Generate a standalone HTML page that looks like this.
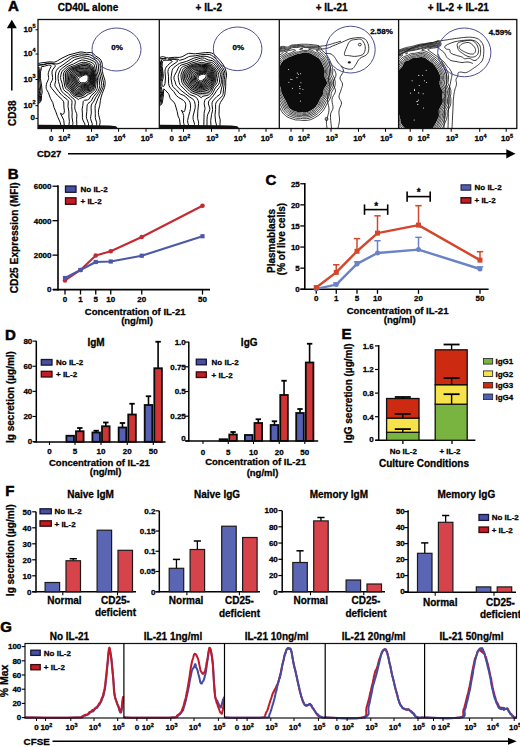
<!DOCTYPE html>
<html><head><meta charset="utf-8"><style>
html,body{margin:0;padding:0;background:#fff;}
svg{display:block;font-family:"Liberation Sans", sans-serif;}
text{stroke:#000;stroke-width:0.28px;paint-order:stroke;}
</style></head><body>
<svg width="520" height="747" viewBox="0 0 520 747">
<rect width="520" height="747" fill="#fff"/>
<text x="8.1" y="10.7" font-size="15" font-weight="bold" style="stroke-width:0.5px">A</text>
<text x="88.00" y="11.08" font-size="10" text-anchor="middle" fill="#000" font-weight="bold">CD40L alone</text>
<text x="208.80" y="11.08" font-size="10" text-anchor="middle" fill="#000" font-weight="bold">+ IL-2</text>
<text x="331.70" y="11.08" font-size="10" text-anchor="middle" fill="#000" font-weight="bold">+ IL-21</text>
<text x="458.20" y="11.08" font-size="10" text-anchor="middle" fill="#000" font-weight="bold">+ IL-2 + IL-21</text>
<defs>
<clipPath id="cb0"><rect x="38" y="19.5" width="121.30000000000001" height="109"/></clipPath>
<clipPath id="cb1"><rect x="159.3" y="19.5" width="120.0" height="109"/></clipPath>
<clipPath id="cb2"><rect x="279.3" y="19.5" width="119.30000000000001" height="109"/></clipPath>
<clipPath id="cb3"><rect x="398.6" y="19.5" width="118.19999999999993" height="109"/></clipPath>
</defs>
<path clip-path="url(#cb0)" fill="#000" fill-opacity="0.32" fill-rule="evenodd" d="M79.9,97.5 L83.7,96.3 L84.8,95.6 L87.2,93.7 L90.8,92.3 L92.2,91.5 L93.5,90.3 L94.3,89.1 L94.8,87.9 L95.2,86.3 L95.9,80.7 L95.9,78.7 L94.1,71.1 L93.1,67.9 L92.0,66.1 L90.8,65.0 L88.0,63.8 L85.2,63.1 L83.2,63.0 L81.2,63.4 L75.2,66.0 L71.2,67.2 L69.6,67.8 L67.7,69.1 L65.9,70.7 L64.8,72.3 L64.2,73.9 L64.2,75.9 L64.7,81.9 L65.6,86.2 L66.4,87.9 L70.0,90.9 L72.4,94.4 L73.6,95.6 L78.0,97.8 L79.9,97.5Z M84.8,83.5 L86.4,83.1 L87.6,82.3 L88.4,81.1 L88.8,79.9 L89.0,77.9 L88.8,76.3 L88.0,75.0 L86.8,74.3 L84.8,74.3 L82.3,75.1 L78.4,77.0 L77.8,77.5 L77.3,78.3 L77.3,79.5 L77.7,80.7 L78.6,82.3 L79.6,83.3 L81.2,83.8 L84.8,83.5Z"/>
<g clip-path="url(#cb0)" fill="none" stroke="#0a0a0a" stroke-width="1.0">
<path d="M84.4,82.7 L85.8,82.3 L86.8,81.7 L87.6,80.7 L88.0,79.5 L88.2,77.9 L88.0,76.3 L87.5,75.5 L86.4,74.9 L85.6,74.9 L84.4,75.1 L82.0,76.1 L79.6,77.6 L78.9,78.3 L78.6,79.1 L78.8,80.7 L79.2,81.5 L80.0,82.3 L81.6,82.9 L84.4,82.7"/>
<path d="M83.4,83.9 L85.6,83.6 L86.9,83.1 L87.9,82.3 L88.6,81.1 L89.1,78.7 L89.0,76.7 L88.4,75.1 L87.2,74.3 L85.6,74.0 L83.2,74.6 L78.4,76.6 L77.6,77.2 L77.1,77.9 L76.9,79.1 L77.2,80.3 L78.0,81.9 L78.9,83.1 L80.0,83.8 L80.8,84.0 L83.4,83.9"/>
<path d="M82.0,85.1 L87.2,84.1 L88.4,83.3 L89.0,82.3 L89.8,79.9 L89.8,77.1 L89.2,74.9 L88.8,74.3 L88.0,73.7 L86.0,73.3 L83.2,73.8 L77.6,75.5 L76.4,76.3 L75.8,77.1 L75.5,78.3 L75.8,79.9 L76.8,81.9 L78.0,83.8 L78.8,84.7 L79.6,85.1 L80.4,85.3 L82.0,85.1"/>
<path d="M80.3,86.7 L83.2,85.8 L87.6,84.9 L88.6,84.3 L89.3,83.5 L89.9,82.3 L90.4,80.7 L90.6,77.9 L90.0,74.9 L89.5,73.9 L88.8,73.2 L87.6,72.8 L86.4,72.6 L83.2,73.0 L77.2,74.3 L76.0,74.9 L75.0,75.9 L74.5,77.1 L74.4,78.3 L74.5,79.5 L75.1,81.1 L78.0,86.0 L79.1,86.7 L80.3,86.7"/>
<path d="M79.5,88.3 L83.6,86.6 L88.0,85.7 L89.2,84.9 L90.0,83.9 L91.1,80.7 L91.3,77.9 L90.5,74.3 L90.0,73.2 L89.2,72.5 L88.0,72.0 L86.0,71.9 L78.4,72.7 L76.8,73.1 L75.8,73.5 L74.8,74.3 L74.2,75.1 L73.6,76.3 L73.3,77.9 L73.4,79.5 L73.9,81.1 L77.2,87.3 L78.4,88.2 L79.5,88.3"/>
<path d="M80.2,89.5 L84.0,87.5 L88.8,86.4 L89.9,85.5 L90.7,84.3 L91.8,80.7 L92.0,77.9 L91.0,73.5 L90.4,72.2 L89.6,71.5 L88.5,71.1 L87.2,71.0 L78.0,71.4 L76.1,71.9 L74.8,72.6 L73.8,73.5 L73.0,74.7 L72.4,76.4 L72.1,78.7 L72.3,80.7 L72.9,82.3 L75.6,87.5 L76.8,89.1 L77.6,89.6 L78.4,89.8 L79.2,89.8 L80.2,89.5"/>
<path d="M79.5,91.1 L80.8,90.5 L82.9,89.1 L84.4,88.4 L89.2,87.2 L90.4,86.3 L91.2,85.1 L92.6,80.7 L92.7,77.9 L91.5,72.7 L90.8,71.3 L89.6,70.3 L87.6,69.9 L84.0,70.0 L80.0,69.8 L78.0,70.1 L75.8,70.7 L74.2,71.5 L72.8,72.7 L72.0,73.9 L71.4,75.9 L70.9,79.1 L71.0,81.1 L71.5,82.7 L74.6,88.3 L75.8,89.9 L76.7,90.7 L77.6,91.1 L79.5,91.1"/>
<path d="M79.9,92.3 L81.2,91.7 L83.6,89.9 L84.8,89.3 L88.8,88.4 L90.0,87.9 L91.2,86.8 L91.9,85.5 L93.3,80.7 L93.3,77.9 L92.4,73.5 L91.8,71.5 L90.8,69.9 L89.6,69.1 L88.4,68.7 L87.2,68.6 L84.4,68.7 L80.8,68.4 L78.8,68.7 L75.6,69.6 L73.3,70.7 L71.8,71.9 L70.8,73.5 L70.2,75.5 L69.6,80.3 L69.7,81.9 L70.2,83.5 L74.0,89.5 L75.6,91.4 L76.4,92.0 L77.6,92.4 L78.8,92.5 L79.9,92.3"/>
<path d="M80.5,93.5 L81.6,93.0 L84.0,91.0 L85.2,90.2 L86.4,89.8 L89.2,89.4 L90.7,88.7 L92.0,87.3 L92.8,85.5 L94.0,79.9 L94.0,78.3 L93.6,76.3 L92.7,72.3 L92.0,70.3 L90.8,68.7 L90.0,68.1 L88.8,67.5 L86.8,67.1 L84.8,67.0 L80.8,67.1 L78.4,67.6 L74.0,69.2 L71.7,70.3 L70.0,71.9 L69.1,73.5 L68.2,81.1 L68.4,82.7 L69.2,84.5 L74.0,91.3 L75.2,92.6 L76.4,93.3 L77.6,93.6 L79.2,93.7 L80.5,93.5"/>
<path d="M81.1,94.7 L82.6,93.9 L85.6,91.4 L86.8,90.9 L90.0,90.3 L91.2,89.7 L91.9,89.1 L92.8,87.9 L93.3,86.7 L94.5,81.5 L94.7,79.5 L94.5,77.5 L93.2,71.9 L92.3,69.5 L91.6,68.3 L90.4,67.1 L88.8,66.3 L86.4,65.6 L84.0,65.4 L80.4,66.0 L72.0,68.9 L70.1,69.9 L68.7,71.1 L67.8,72.3 L67.2,73.9 L67.0,81.9 L67.6,84.3 L68.4,85.9 L71.2,89.1 L73.7,92.7 L74.8,93.8 L76.0,94.4 L78.0,94.9 L79.6,95.0 L81.1,94.7"/>
<path d="M80.6,96.3 L82.0,95.9 L83.2,95.3 L86.4,92.7 L90.4,91.5 L92.4,90.3 L93.4,89.1 L94.1,87.5 L95.2,81.5 L95.4,79.5 L95.2,77.5 L93.6,71.0 L92.4,67.9 L91.2,66.4 L90.0,65.5 L88.0,64.7 L85.6,64.1 L83.2,64.0 L80.8,64.5 L75.6,66.6 L70.4,68.3 L68.5,69.5 L66.8,71.1 L66.0,72.3 L65.4,73.9 L65.8,82.3 L66.4,85.3 L67.2,87.0 L70.4,90.0 L73.1,93.9 L74.4,95.1 L76.0,95.8 L78.0,96.4 L80.6,96.3"/>
<path d="M78.5,99.5 L78.8,99.1 L79.6,98.6 L85.2,96.6 L88.2,94.3 L91.2,92.9 L92.4,92.1 L93.6,91.1 L94.6,89.9 L95.2,88.7 L95.6,87.1 L96.3,81.1 L96.3,78.7 L94.3,70.3 L93.2,67.0 L92.4,65.6 L91.2,64.5 L88.4,63.3 L85.2,62.4 L83.2,62.3 L81.2,62.6 L79.2,63.4 L74.8,65.5 L70.8,66.7 L69.2,67.4 L67.2,68.7 L65.1,70.7 L64.0,72.3 L63.4,73.9 L63.3,76.3 L63.7,79.9 L64.8,86.3 L65.6,88.3 L66.4,89.2 L69.6,91.5 L71.8,94.7 L72.8,95.8 L76.9,98.3 L78.4,99.7 L78.5,99.5"/>
<path d="M82.5,128.7 L83.6,128.2 L84.3,127.5 L84.8,126.7 L85.0,125.5 L84.8,123.9 L82.8,119.9 L82.4,117.5 L82.4,113.1 L82.1,109.1 L82.8,105.5 L83.2,101.5 L83.8,100.7 L84.4,100.3 L87.6,99.9 L88.4,99.6 L89.0,99.1 L90.9,95.9 L94.8,92.3 L96.2,90.7 L97.2,88.3 L97.6,85.1 L97.6,80.3 L97.4,77.9 L96.0,72.9 L94.5,65.9 L93.9,64.3 L92.8,63.2 L90.8,62.2 L85.6,60.5 L82.8,60.0 L81.2,60.2 L78.8,61.1 L73.6,63.9 L68.8,65.8 L66.2,67.5 L63.4,69.9 L61.8,71.9 L61.0,74.3 L60.6,77.5 L60.8,79.5 L62.1,83.5 L63.0,87.9 L63.6,89.5 L64.8,91.0 L68.4,93.5 L71.0,96.7 L74.4,99.5 L75.1,100.7 L75.3,102.3 L74.8,106.3 L74.8,108.3 L75.3,110.3 L76.6,113.5 L76.9,115.1 L76.6,119.1 L76.8,123.9 L76.5,127.5 L77.1,128.3 L78.4,128.7 L80.8,128.9 L82.5,128.7"/>
<path d="M38.6,99.9 L38.3,97.9 L36.9,93.9 L36.9,89.9 L36.4,86.3 L37.6,74.8 L37.7,70.3 L37.2,70.0 L36.9,70.3 L36.9,75.1 L36.4,80.3 L35.5,84.7 L35.4,86.3 L35.8,89.5 L35.8,92.7 L35.9,93.9 L37.6,97.9 L38.0,100.0 L38.4,100.3 L38.6,99.9"/>
<path d="M78.2,132.3 L82.8,132.1 L84.4,131.6 L86.0,130.1 L88.0,126.7 L88.5,125.1 L88.5,123.5 L86.6,118.3 L86.3,116.3 L86.8,111.5 L87.0,106.7 L87.3,104.7 L88.0,103.5 L90.4,101.7 L91.2,100.9 L93.6,96.4 L97.6,91.8 L99.1,88.7 L99.5,87.1 L99.8,85.5 L98.9,77.5 L97.2,71.9 L96.3,65.1 L95.6,63.0 L94.8,62.0 L94.0,61.4 L89.6,59.3 L86.8,58.5 L82.4,57.7 L80.0,58.0 L74.8,59.6 L71.0,62.3 L66.0,65.3 L61.2,69.0 L60.0,70.3 L58.8,72.7 L58.1,75.9 L58.1,78.7 L58.5,81.5 L60.3,87.9 L61.4,90.7 L62.4,92.1 L63.6,93.4 L67.2,96.2 L70.6,99.1 L71.6,100.2 L71.9,101.1 L72.0,102.3 L71.7,106.7 L72.2,112.7 L72.0,117.1 L72.9,122.7 L72.8,124.3 L71.9,127.9 L71.8,129.1 L72.1,130.3 L72.6,131.1 L73.2,131.8 L74.2,132.3"/>
<path d="M38.5,101.1 L39.2,100.3 L39.3,99.5 L38.1,93.9 L38.3,90.3 L37.7,85.1 L38.5,70.3 L38.3,69.5 L37.6,69.2 L36.6,69.5 L36.0,70.3 L36.1,74.7 L35.7,79.5 L35.4,81.5 L34.5,84.7 L34.4,86.3 L34.7,89.9 L34.7,92.7 L34.9,93.9 L36.8,97.9 L37.3,100.7 L37.6,101.2 L38.0,101.3 L38.5,101.1"/>
<path d="M88.5,132.3 L91.7,126.7 L92.3,125.1 L92.2,123.5 L90.9,119.9 L90.6,118.3 L90.7,116.7 L91.3,113.1 L91.1,107.1 L91.3,105.1 L91.9,103.9 L93.9,101.1 L95.9,97.1 L98.4,93.5 L99.6,91.5 L101.5,86.7 L101.8,85.5 L101.7,83.9 L100.3,76.3 L98.8,71.1 L98.1,63.5 L97.7,62.3 L97.3,61.5 L95.6,60.1 L89.6,56.9 L87.6,56.4 L81.6,55.7 L79.6,56.0 L74.4,57.3 L72.7,57.9 L71.3,58.7 L62.8,65.0 L59.6,67.0 L58.4,67.9 L56.5,70.3 L56.0,71.5 L55.6,73.1 L55.5,75.1 L55.7,80.7 L54.8,84.7 L55.1,86.3 L58.7,91.5 L61.2,94.5 L63.2,96.5 L67.2,99.5 L67.9,100.3 L68.3,101.1 L68.0,106.3 L68.9,111.9 L68.9,117.1 L69.4,121.5 L68.9,125.5 L68.9,127.1 L69.1,129.5 L69.9,132.3"/>
<path d="M34.0,94.1 L36.2,98.3 L36.7,101.9 L37.2,102.3 L37.6,102.3 L38.4,102.0 L39.6,100.8 L40.0,99.5 L39.3,95.1 L39.6,90.7 L39.1,86.7 L38.7,80.3 L39.1,71.9 L39.3,69.9 L39.1,69.1 L38.4,68.5 L37.6,68.4 L36.5,68.7 L35.9,69.1 L35.2,69.9 L34.9,79.1 L34.6,81.1 L34.0,83.1"/>
<path d="M93.1,132.3 L95.9,127.1 L96.5,125.5 L96.7,124.3 L96.6,122.3 L95.6,119.1 L95.3,117.5 L95.3,113.5 L95.1,108.3 L95.2,105.5 L98.0,98.3 L100.4,93.4 L102.9,87.9 L103.5,85.5 L103.5,82.7 L101.9,75.9 L100.5,71.1 L100.3,68.7 L100.3,63.1 L100.0,61.9 L99.3,60.7 L97.6,59.2 L90.8,55.0 L89.2,54.7 L81.2,53.9 L78.4,54.3 L70.8,56.4 L64.8,60.0 L60.8,62.6 L58.0,63.8 L56.0,64.0 L51.6,63.3 L48.0,63.3 L43.6,64.4 L39.2,64.9 L37.3,65.5 L37.6,65.6 L38.3,65.5 L38.4,65.3 L43.6,64.8 L47.2,63.7 L49.6,63.5 L52.0,63.8 L53.6,64.3 L54.4,64.7 L55.3,65.5 L55.2,66.3 L52.8,69.5 L52.1,71.1 L52.0,73.1 L52.6,77.5 L52.6,79.1 L52.2,80.3 L50.5,83.5 L50.3,85.5 L50.9,87.1 L52.0,88.7 L57.2,95.0 L62.4,99.9 L63.6,101.8 L63.8,103.1 L63.9,107.1 L64.4,110.7 L64.2,112.7 L63.6,113.9 L62.8,114.4 L61.6,114.1 L60.4,112.9 L60.4,113.1 L60.7,113.5 L60.7,113.9 L61.2,115.0 L63.4,119.1 L63.8,120.7 L64.3,125.5 L67.0,132.3"/>
<path d="M34.0,95.9 L35.0,97.5 L35.5,98.7 L35.7,99.9 L35.6,101.9 L35.8,102.7 L36.1,103.1 L36.8,103.4 L37.6,103.3 L38.4,103.0 L39.9,101.5 L40.7,99.9 L40.4,95.5 L40.9,91.5 L40.2,83.9 L39.6,79.5 L39.7,72.7 L40.2,69.1 L39.9,68.3 L39.2,67.7 L38.0,67.5 L36.8,67.8 L35.2,68.6 L34.4,69.5 L34.1,70.3 L34.2,74.7 L34.0,79.1"/>
<path d="M97.2,132.3 L99.6,125.1 L100.1,122.7 L100.0,120.3 L98.6,114.7 L98.4,112.3 L98.6,109.9 L99.7,105.5 L100.4,100.7 L100.9,97.9 L102.1,93.9 L104.6,87.5 L105.2,83.5 L104.9,80.3 L103.2,74.8 L102.3,71.1 L102.1,69.1 L102.3,64.7 L102.1,63.1 L101.2,60.7 L100.0,59.0 L98.8,58.0 L95.5,55.9 L93.2,53.6 L92.0,52.8 L90.8,52.5 L86.4,52.8 L82.0,52.0 L80.0,52.0 L68.8,54.9 L62.0,58.1 L57.7,60.7 L54.8,62.1 L53.6,62.2 L50.0,61.9 L48.0,62.0 L44.0,62.6 L40.8,62.9 L38.8,63.4 L37.6,63.9 L36.2,65.1 L35.6,65.9 L35.6,67.1 L34.0,68.6"/>
<path d="M34.0,97.4 L34.7,99.1 L34.8,100.3 L34.6,102.7 L35.1,103.9 L36.0,104.3 L37.2,104.3 L38.4,103.8 L39.2,103.3 L40.6,101.5 L41.3,99.9 L41.5,95.9 L42.2,91.9 L41.4,83.9 L40.4,78.7 L40.4,73.1 L40.6,71.5 L41.3,69.1 L41.1,67.1 L41.6,66.7 L44.4,66.2 L48.4,65.1 L50.0,65.1 L50.8,65.4 L51.2,65.9 L51.2,66.3 L49.3,69.9 L48.4,72.7 L48.2,74.7 L48.6,77.5 L48.6,78.7 L48.2,79.9 L46.9,82.7 L46.4,84.3 L46.1,86.3 L46.2,88.3 L46.6,89.5 L48.4,92.7 L50.4,98.3 L52.8,102.7 L54.0,107.5 L55.9,111.9 L57.6,116.7 L60.0,122.0 L61.9,128.7 L63.3,132.3"/>
</g>
<path clip-path="url(#cb0)" d="M38.0,124.8 L98.0,125.2 L110.0,125.6 L116.0,126.2 L118.0,128.5 L38.0,128.5Z" fill="#111"/>
<path clip-path="url(#cb1)" fill="#000" fill-opacity="0.32" fill-rule="evenodd" d="M200.9,95.5 L202.9,94.9 L207.3,94.4 L209.3,93.4 L210.9,91.6 L213.1,87.1 L215.8,83.5 L216.4,82.3 L216.9,78.3 L217.9,74.7 L217.7,73.1 L216.5,70.7 L213.6,66.7 L212.1,65.2 L210.5,64.5 L201.7,63.1 L192.1,64.8 L190.1,65.7 L184.5,68.8 L183.3,70.3 L182.1,73.5 L181.7,75.9 L182.3,80.3 L183.0,82.7 L184.1,84.5 L190.1,90.6 L191.7,91.9 L193.3,92.7 L197.0,93.9 L200.5,95.7 L200.9,95.5Z M202.2,81.5 L206.1,78.3 L206.9,77.1 L207.1,76.3 L207.0,75.1 L206.5,74.2 L205.7,73.6 L204.5,73.4 L203.3,73.4 L200.5,74.1 L198.2,75.5 L197.1,77.1 L196.9,78.3 L196.9,79.1 L197.3,79.9 L198.0,80.7 L199.3,81.5 L200.5,81.9 L201.3,81.9 L202.2,81.5Z"/>
<g clip-path="url(#cb1)" fill="none" stroke="#0a0a0a" stroke-width="1.0">
<path d="M201.6,80.7 L202.5,80.2 L204.4,78.7 L205.8,77.1 L206.1,76.3 L206.1,75.5 L205.3,74.5 L203.7,74.1 L201.3,74.5 L199.4,75.5 L198.3,76.7 L197.9,78.3 L198.0,79.1 L198.5,79.9 L199.3,80.5 L200.1,80.8 L200.9,80.9 L201.6,80.7"/>
<path d="M202.0,81.9 L206.0,78.7 L207.0,77.5 L207.4,76.3 L207.3,75.1 L206.9,74.3 L206.1,73.6 L204.9,73.2 L203.7,73.2 L200.9,73.8 L198.4,75.1 L197.0,76.7 L196.7,77.5 L196.6,78.7 L197.0,79.9 L197.6,80.7 L198.9,81.6 L200.1,82.0 L201.3,82.1 L202.0,81.9"/>
<path d="M202.3,83.1 L203.3,82.4 L207.2,79.1 L207.9,78.3 L208.3,77.5 L208.5,75.9 L208.1,74.3 L207.3,73.1 L206.5,72.6 L205.3,72.4 L203.3,72.5 L199.7,73.4 L197.2,74.7 L196.4,75.5 L195.7,76.7 L195.5,77.9 L195.5,79.1 L195.9,80.3 L196.5,81.1 L197.7,82.1 L199.7,83.1 L200.9,83.3 L202.3,83.1"/>
<path d="M202.4,84.3 L203.7,83.6 L205.7,81.7 L208.0,79.9 L208.8,79.1 L209.2,78.3 L209.5,76.7 L209.1,74.3 L208.4,72.7 L207.3,71.8 L206.1,71.5 L204.1,71.6 L201.7,72.0 L199.7,72.5 L196.1,73.9 L195.2,74.7 L194.6,75.9 L194.3,77.5 L194.4,79.1 L194.9,80.7 L195.7,81.9 L197.3,83.0 L199.7,84.2 L200.9,84.5 L202.4,84.3"/>
<path d="M201.7,85.5 L203.2,85.1 L204.5,84.3 L208.9,80.6 L210.0,79.1 L210.4,77.1 L210.1,74.3 L209.2,72.3 L208.5,71.4 L207.7,70.9 L206.1,70.6 L203.7,70.8 L196.1,72.3 L194.5,73.1 L193.3,74.7 L193.0,75.9 L193.0,77.5 L193.7,80.7 L194.5,82.3 L195.7,83.4 L198.5,84.8 L200.1,85.4 L201.7,85.5"/>
<path d="M203.0,86.3 L204.9,85.4 L207.7,83.3 L209.7,81.5 L210.6,80.3 L211.3,78.3 L211.3,76.3 L210.9,73.9 L210.1,71.9 L209.3,70.7 L208.5,70.1 L207.7,69.7 L206.5,69.6 L202.5,69.9 L198.5,70.6 L195.3,70.8 L194.1,71.2 L193.2,71.9 L192.2,73.1 L191.6,74.3 L191.2,75.5 L191.4,77.1 L193.3,82.8 L194.1,83.8 L194.9,84.4 L198.9,86.2 L200.9,86.6 L203.0,86.3"/>
<path d="M202.6,87.5 L204.9,86.7 L207.6,85.1 L210.1,82.8 L211.3,81.1 L212.0,79.1 L212.2,76.3 L211.8,73.9 L211.0,71.5 L210.2,70.3 L209.3,69.4 L208.5,68.9 L207.3,68.6 L205.3,68.6 L198.5,69.2 L194.9,69.2 L193.7,69.5 L192.5,70.4 L191.3,71.9 L189.9,73.9 L189.4,75.5 L189.5,76.7 L191.1,79.9 L192.2,83.5 L192.9,84.5 L193.7,85.2 L197.7,87.0 L200.1,87.7 L202.6,87.5"/>
<path d="M202.3,88.7 L205.3,87.8 L208.1,86.4 L210.1,84.5 L212.1,81.9 L212.8,79.5 L213.0,76.3 L212.8,73.9 L212.0,71.5 L211.1,69.9 L210.1,68.7 L208.9,67.9 L207.7,67.6 L205.7,67.5 L198.1,68.0 L194.5,67.9 L192.9,68.3 L191.3,69.6 L188.1,73.9 L187.6,75.1 L187.5,75.9 L187.9,77.5 L189.7,80.3 L191.2,84.3 L192.5,85.9 L194.5,87.1 L198.5,88.6 L200.5,88.9 L202.3,88.7"/>
<path d="M202.7,89.9 L206.9,88.6 L208.5,87.8 L210.1,86.3 L212.8,82.7 L213.6,80.3 L213.9,76.3 L213.9,73.9 L213.3,71.9 L212.2,69.9 L210.9,68.1 L209.7,67.2 L208.5,66.7 L206.5,66.5 L201.7,66.5 L197.7,66.9 L194.1,66.9 L192.5,67.3 L191.3,68.0 L190.1,69.1 L187.6,71.9 L186.5,73.5 L186.0,74.7 L185.8,75.9 L185.9,77.1 L186.3,78.3 L188.5,81.8 L190.1,85.1 L191.0,86.3 L192.1,87.2 L194.5,88.5 L198.5,90.0 L200.5,90.2 L202.7,89.9"/>
<path d="M202.5,91.5 L207.3,90.3 L208.9,89.5 L210.1,88.3 L213.4,83.5 L214.2,81.9 L214.6,80.3 L215.2,74.3 L214.8,72.3 L213.5,69.9 L211.7,67.5 L210.5,66.5 L209.1,65.9 L207.3,65.6 L201.7,65.4 L197.3,65.9 L194.1,66.0 L192.1,66.4 L190.3,67.5 L187.4,69.9 L186.2,71.1 L185.2,72.7 L184.4,74.7 L184.3,76.3 L184.5,78.3 L185.2,80.3 L186.1,82.0 L189.4,86.3 L190.9,87.9 L192.5,89.1 L194.9,90.3 L198.5,91.5 L200.5,91.8 L202.5,91.5"/>
<path d="M202.4,93.5 L206.5,93.0 L207.7,92.7 L209.3,91.7 L210.5,90.3 L212.5,86.7 L214.8,83.5 L215.4,82.3 L215.7,81.1 L216.0,77.5 L216.7,74.7 L216.7,73.5 L216.5,72.7 L215.5,70.7 L212.9,67.1 L211.6,65.9 L210.0,65.1 L201.7,64.1 L193.7,65.1 L191.7,65.6 L190.1,66.4 L185.9,69.1 L184.9,70.0 L184.1,71.3 L183.2,73.5 L182.8,75.5 L182.9,77.9 L183.7,81.5 L184.3,82.7 L185.3,84.1 L189.7,88.7 L192.1,90.8 L194.1,91.8 L199.3,93.5 L200.5,93.7 L202.4,93.5"/>
<path d="M201.6,97.5 L202.0,96.7 L202.9,96.2 L206.9,95.5 L208.5,94.9 L209.7,94.1 L211.0,92.7 L211.9,91.1 L213.7,87.1 L216.4,83.9 L217.0,82.7 L217.4,81.5 L217.7,78.3 L218.5,75.5 L218.7,74.3 L218.3,72.7 L217.2,70.7 L214.3,66.7 L212.5,64.8 L210.5,63.9 L206.1,63.4 L202.9,62.5 L201.7,62.3 L192.1,64.4 L184.1,68.1 L183.1,69.1 L182.5,70.3 L181.2,73.9 L180.9,75.9 L181.5,80.3 L181.9,82.3 L182.7,83.9 L183.9,85.5 L189.7,91.4 L190.9,92.4 L192.5,93.2 L196.9,94.7 L200.0,96.7 L201.3,97.9 L201.6,97.5"/>
<path d="M201.1,130.3 L202.1,129.6 L203.0,128.7 L203.5,127.5 L203.8,125.9 L204.1,113.5 L204.3,111.9 L205.1,108.7 L204.2,103.9 L204.3,102.3 L204.7,100.7 L205.2,99.5 L205.7,99.0 L209.3,97.0 L211.4,95.1 L213.0,92.7 L215.3,88.0 L218.7,84.3 L219.4,82.3 L219.7,79.1 L220.5,74.7 L220.3,73.1 L219.3,71.1 L215.7,65.9 L213.6,63.5 L211.7,62.4 L206.9,61.8 L203.7,60.3 L202.1,59.9 L200.5,60.2 L196.5,61.7 L191.7,63.1 L186.9,65.2 L183.3,66.4 L182.1,67.1 L181.3,67.9 L180.6,69.1 L178.6,74.3 L178.2,76.3 L178.3,77.9 L179.2,82.7 L179.8,84.3 L180.7,85.5 L187.4,92.3 L189.3,94.0 L190.9,95.0 L194.1,96.1 L195.7,97.0 L196.9,98.3 L198.1,100.3 L198.6,101.9 L198.6,103.5 L197.8,111.1 L197.6,117.1 L197.7,118.7 L198.5,121.9 L198.6,123.5 L198.3,125.5 L197.2,128.3 L197.2,129.1 L197.7,129.9 L198.9,130.6 L200.1,130.6 L201.1,130.3"/>
<path d="M159.8,101.5 L159.5,98.3 L159.7,93.5 L159.1,89.5 L158.6,82.3 L158.8,80.3 L160.0,75.9 L160.1,73.5 L159.8,71.1 L158.7,66.3 L158.6,64.3 L158.8,61.9 L158.5,61.7 L158.1,61.9 L157.9,62.3 L157.7,65.5 L158.0,67.5 L159.1,71.9 L159.3,74.3 L159.1,76.3 L158.1,80.3 L158.0,82.3 L158.4,86.7 L158.4,90.3 L158.9,93.9 L158.8,99.1 L159.3,101.9 L159.7,101.9 L159.8,101.5"/>
<path d="M203.3,132.3 L205.9,129.5 L206.6,128.3 L207.0,127.1 L207.0,119.9 L207.3,116.3 L207.8,114.3 L209.4,111.1 L209.8,109.5 L209.7,107.9 L208.4,103.9 L208.5,101.9 L209.4,100.3 L213.3,95.9 L216.9,90.3 L219.3,87.4 L220.5,85.5 L221.2,83.1 L221.4,79.1 L222.1,74.3 L221.7,72.3 L220.6,70.3 L216.4,64.3 L214.1,61.7 L212.1,60.6 L208.1,59.9 L204.5,58.2 L202.5,57.9 L200.9,58.1 L198.8,58.7 L194.5,60.2 L186.9,63.4 L181.7,64.9 L180.1,65.7 L179.1,66.7 L178.3,67.9 L176.5,71.8 L174.5,75.5 L173.9,77.5 L174.2,79.5 L175.2,81.9 L175.9,84.7 L176.6,85.9 L181.9,91.1 L185.7,93.9 L189.3,96.8 L192.9,99.1 L193.8,100.3 L194.6,101.9 L195.2,104.7 L195.2,107.5 L194.7,109.9 L193.3,115.1 L193.0,117.5 L193.2,119.5 L194.3,123.1 L194.5,124.3 L194.2,125.9 L193.3,128.7 L193.2,130.3 L193.5,131.5 L194.4,132.3"/>
<path d="M159.9,102.7 L160.3,102.3 L160.5,101.5 L160.3,98.3 L160.7,93.5 L159.7,88.3 L159.2,82.7 L159.5,80.7 L160.7,76.3 L160.9,73.5 L160.6,71.1 L159.5,65.9 L159.5,63.9 L159.7,61.9 L159.3,61.1 L158.5,61.0 L157.7,61.2 L157.1,61.9 L156.7,64.3 L156.9,67.1 L158.0,71.9 L158.2,74.3 L158.1,76.3 L157.3,80.7 L157.8,86.7 L157.6,91.1 L158.0,94.3 L158.0,98.7 L158.5,101.9 L159.1,102.7 L159.9,102.7"/>
<path d="M207.7,132.3 L210.4,127.9 L211.0,126.3 L210.7,120.7 L211.5,114.7 L212.4,111.1 L212.6,109.5 L212.0,104.7 L212.1,102.7 L212.9,100.9 L214.5,99.0 L216.9,96.5 L219.7,94.6 L220.5,93.5 L221.3,89.1 L222.6,84.3 L222.8,79.5 L223.4,75.5 L223.5,73.9 L223.0,71.5 L221.7,69.1 L217.0,62.7 L214.9,60.3 L212.9,58.8 L210.5,57.6 L206.9,56.5 L204.1,56.2 L200.5,56.5 L193.7,58.2 L186.5,61.4 L179.7,63.3 L177.7,64.5 L173.9,67.5 L172.7,69.1 L172.1,70.7 L171.2,76.7 L171.1,78.7 L172.0,84.3 L172.7,86.3 L173.6,87.5 L176.5,90.0 L179.3,93.4 L180.5,94.1 L183.8,95.5 L185.7,96.8 L188.9,100.3 L190.0,102.3 L190.6,105.9 L190.5,108.3 L189.9,111.5 L188.4,116.7 L187.6,120.7 L187.9,123.1 L189.3,127.5 L189.3,132.3"/>
<path d="M160.1,103.5 L160.9,102.7 L161.1,101.9 L161.1,98.3 L161.6,93.9 L161.4,91.9 L160.2,86.7 L159.9,82.7 L160.2,81.1 L161.5,76.7 L161.6,73.9 L161.4,71.5 L160.4,65.9 L160.6,61.5 L160.1,60.5 L159.7,60.2 L158.9,60.1 L157.3,60.6 L156.3,61.5 L155.9,63.1 L155.8,65.1 L157.1,75.1 L156.6,80.7 L157.2,86.3 L156.7,91.1 L157.1,95.1 L157.2,99.1 L157.9,102.7 L158.9,103.5 L160.1,103.5"/>
<path d="M212.3,132.3 L213.3,130.8 L215.7,128.5 L216.4,127.1 L216.5,125.1 L215.5,121.1 L215.0,115.1 L215.6,109.5 L215.6,104.3 L215.9,103.1 L216.6,101.9 L218.3,99.9 L221.7,96.7 L222.5,95.6 L222.9,94.6 L223.2,93.1 L223.5,89.1 L224.1,85.1 L224.2,79.9 L224.9,75.5 L225.0,73.5 L224.3,70.7 L222.6,67.5 L218.8,62.3 L216.4,59.5 L213.7,56.8 L211.7,55.4 L209.7,54.6 L206.9,54.3 L200.9,54.8 L195.3,55.8 L189.9,56.3 L188.5,56.8 L184.1,59.1 L179.7,60.3 L178.9,60.0 L178.1,59.2 L174.9,58.9 L168.2,59.1 L174.1,59.3 L176.5,59.9 L177.4,60.3 L177.8,60.7 L177.7,61.1 L176.9,61.9 L170.5,66.3 L169.1,67.9 L168.3,69.5 L167.9,71.5 L168.5,76.3 L168.6,83.5 L169.0,85.5 L169.8,87.1 L170.9,88.6 L173.7,91.5 L176.3,95.5 L178.5,97.4 L183.3,100.3 L184.5,101.5 L185.4,103.1 L185.7,104.3 L185.7,105.9 L184.9,110.3 L184.5,111.4 L184.1,111.7 L183.3,111.6 L181.3,110.3 L182.9,113.2 L183.6,115.5 L183.7,117.1 L183.5,121.9 L183.8,123.5 L184.7,127.1 L184.8,128.3 L184.5,131.1 L184.6,132.3"/>
<path d="M155.3,69.5 L156.0,75.9 L155.8,81.1 L156.6,85.9 L156.5,87.5 L155.7,91.5 L156.2,95.1 L156.4,99.5 L156.8,102.3 L157.1,103.1 L157.7,103.7 L158.5,104.2 L159.3,104.4 L160.1,104.4 L160.9,103.9 L161.3,103.5 L161.7,102.3 L161.9,98.7 L162.6,93.9 L162.4,91.5 L161.1,86.7 L160.7,83.9 L160.9,81.9 L162.1,77.9 L162.4,75.5 L162.2,72.3 L161.2,65.9 L161.5,59.9 L161.8,59.5 L162.9,59.0 L166.3,58.7 L163.3,58.5 L159.7,58.8 L157.7,59.1 L155.9,60.7 L155.3,61.6"/>
<path d="M217.3,132.3 L219.3,128.7 L219.8,127.5 L219.9,126.3 L220.2,119.9 L219.2,115.9 L219.0,114.3 L219.3,105.9 L219.7,104.3 L220.5,102.3 L223.7,97.4 L224.8,94.7 L225.7,86.7 L225.8,79.9 L226.6,75.1 L226.2,71.9 L224.9,67.9 L223.3,64.8 L220.5,61.1 L214.9,55.1 L213.5,53.9 L211.3,52.9 L208.1,52.5 L205.3,52.6 L195.3,53.8 L193.3,53.7 L190.1,53.3 L188.5,53.4 L186.9,54.0 L182.9,56.4 L180.9,57.1 L179.3,57.4 L174.5,57.3 L168.5,57.9 L166.5,57.7 L163.3,56.7 L162.1,56.7 L157.7,58.2 L156.5,58.9 L155.3,60.1"/>
<path d="M163.3,86.6 L162.9,86.6 L162.5,86.1 L162.1,85.1 L161.9,83.5 L162.1,81.7 L163.1,78.3 L163.3,76.3 L163.1,73.5 L162.1,66.3 L162.2,63.9 L162.6,61.5 L162.9,60.9 L163.3,60.6 L164.9,60.2 L169.3,60.2 L171.7,60.7 L172.2,61.1 L172.2,61.5 L171.9,61.9 L169.3,63.8 L167.7,65.4 L166.2,67.1 L165.4,68.7 L165.1,69.9 L165.0,71.5 L165.5,77.9 L165.0,83.5 L164.5,85.1 L163.3,86.6"/>
<path d="M155.3,83.1 L155.7,84.7 L155.9,86.3 L155.8,87.5 L155.3,89.0"/>
<path d="M155.3,95.7 L155.5,99.1 L156.1,103.2 L156.6,103.9 L157.7,104.7 L158.9,105.1 L160.1,105.2 L160.9,104.9 L161.6,104.3 L162.3,102.7 L163.5,94.7 L163.6,89.5 L163.7,88.9 L165.3,90.2 L168.4,93.5 L169.0,94.7 L169.9,97.5 L170.4,98.7 L171.3,99.8 L174.1,102.3 L175.1,104.3 L177.2,111.5 L178.0,115.9 L179.3,118.7 L179.6,119.9 L180.5,127.1 L180.7,132.3"/>
</g>
<path clip-path="url(#cb1)" d="M159.3,124.8 L219.3,125.2 L231.3,125.6 L237.3,126.2 L239.3,128.5 L159.3,128.5Z" fill="#111"/>
<g clip-path="url(#cb2)">
<path fill="#0d0d0d" fill-rule="nonzero" d="M306.3,112.2 L306.5,112.0 L308.1,112.0 L308.5,111.6 L308.9,111.6 L309.3,111.2 L309.7,111.2 L310.1,110.8 L310.5,110.8 L311.3,110.0 L311.7,110.0 L312.1,109.6 L312.5,109.6 L313.3,108.8 L313.7,108.8 L316.3,106.2 L316.3,105.8 L317.5,104.6 L317.5,104.2 L317.9,103.8 L317.9,103.4 L318.3,103.0 L318.3,102.6 L318.7,102.2 L318.7,101.8 L319.1,101.4 L319.1,101.0 L319.5,100.6 L319.5,99.8 L320.3,99.0 L320.3,98.6 L320.7,98.2 L320.7,97.8 L321.9,96.6 L321.9,96.2 L322.7,95.4 L322.7,94.6 L323.1,94.2 L323.1,91.4 L323.5,91.0 L323.5,89.8 L323.9,89.4 L323.9,89.0 L324.3,88.6 L324.3,88.2 L324.7,87.8 L324.7,87.4 L325.5,86.6 L325.5,86.2 L326.3,85.4 L326.3,85.0 L327.1,83.8 L327.1,82.2 L326.7,81.8 L326.7,81.0 L326.3,80.6 L326.3,80.2 L325.9,79.8 L325.9,79.4 L325.5,79.0 L325.5,78.6 L324.7,77.4 L324.7,76.6 L324.3,76.2 L324.3,73.4 L324.7,73.0 L324.7,69.8 L324.3,69.4 L324.3,68.6 L323.9,68.2 L323.9,67.4 L323.1,66.2 L323.1,65.4 L322.3,64.2 L322.3,63.4 L321.5,62.2 L321.5,61.8 L320.7,61.0 L320.7,60.6 L319.9,59.8 L319.9,59.4 L318.5,58.0 L318.1,58.0 L317.3,57.2 L316.9,57.2 L316.1,56.4 L315.7,56.4 L315.3,56.0 L314.9,56.0 L314.5,55.6 L314.1,55.6 L312.9,54.8 L312.5,54.8 L311.7,54.0 L311.3,54.0 L310.9,53.6 L310.5,53.6 L310.1,53.2 L309.3,53.2 L308.9,52.8 L307.7,52.8 L307.3,52.4 L303.3,52.4 L302.9,52.8 L302.1,52.8 L301.7,53.2 L300.9,53.2 L300.5,53.6 L299.7,53.6 L299.3,54.0 L296.9,54.0 L296.5,54.4 L295.3,54.4 L294.9,54.8 L294.5,54.8 L294.1,55.2 L293.7,55.2 L292.5,56.0 L291.7,56.0 L291.3,56.4 L290.5,56.4 L290.1,56.8 L289.3,56.8 L288.9,57.2 L288.5,57.2 L288.1,57.6 L287.7,57.6 L286.9,58.4 L286.5,58.4 L286.1,58.8 L285.7,58.8 L285.3,59.2 L284.9,59.2 L284.1,60.0 L283.7,60.0 L282.7,61.0 L282.7,61.4 L281.5,62.6 L281.5,63.0 L280.7,63.8 L280.7,64.2 L280.3,64.6 L280.3,65.4 L279.9,65.8 L279.9,72.6 L279.5,73.0 L279.5,73.8 L278.7,75.0 L278.7,77.4 L279.1,77.8 L279.1,78.6 L279.5,79.0 L279.5,79.8 L279.9,80.2 L279.9,82.6 L279.5,83.0 L279.5,84.6 L279.9,85.0 L279.9,86.2 L280.3,86.6 L280.3,87.4 L280.7,87.8 L280.7,88.6 L281.1,89.0 L281.1,91.4 L281.5,91.8 L281.5,93.0 L282.3,94.2 L282.3,94.6 L282.7,95.0 L282.7,95.4 L283.1,95.8 L283.1,96.2 L283.5,96.6 L283.5,97.0 L283.9,97.4 L283.9,97.8 L284.3,98.2 L284.3,98.6 L285.1,99.4 L285.1,99.8 L285.5,100.2 L285.5,100.6 L285.9,101.0 L285.9,101.4 L286.3,101.8 L286.3,102.2 L287.1,103.4 L287.1,104.2 L287.5,104.6 L287.5,105.0 L287.9,105.4 L287.9,105.8 L288.3,106.2 L288.3,106.6 L288.7,107.0 L288.7,107.4 L290.9,109.6 L291.3,109.6 L292.5,110.4 L293.3,110.4 L294.5,111.2 L295.3,111.2 L295.7,111.6 L296.5,111.6 L296.9,112.0 L302.5,112.0 L302.9,112.4 L306.1,112.4 L306.3,112.2Z"/>
<g fill="none" stroke="#151515" stroke-width="0.8">
<path d="M306.7,113.0 L306.9,112.8 L308.5,112.7 L310.9,111.5 L311.7,110.8 L312.9,110.3 L314.3,109.4 L316.9,106.8 L317.3,106.0 L318.1,105.2 L320.2,101.0 L320.3,100.2 L321.0,99.4 L321.5,98.2 L322.5,97.2 L323.4,95.8 L323.9,94.2 L323.9,91.8 L324.2,91.4 L324.3,90.2 L325.5,87.8 L327.0,85.8 L327.8,84.2 L327.9,82.2 L327.4,80.6 L325.5,77.0 L325.4,76.2 L325.1,75.8 L325.1,73.8 L325.5,73.0 L325.4,69.4 L325.1,69.0 L324.6,67.0 L323.9,65.8 L323.8,65.0 L323.1,63.8 L323.0,63.0 L322.2,61.4 L320.5,58.8 L319.1,57.4 L316.5,55.7 L312.9,54.0 L312.1,53.3 L310.5,52.5 L309.7,52.4 L309.3,52.1 L308.1,52.0 L307.3,51.6 L303.3,51.6 L300.5,52.5 L300.1,52.8 L299.3,52.9 L298.9,53.2 L296.9,53.2 L296.1,53.6 L294.9,53.7 L292.1,55.2 L288.9,56.1 L287.3,56.9 L286.5,57.6 L284.5,58.5 L283.1,59.4 L282.1,60.4 L281.9,61.0 L280.9,62.0 L280.0,63.4 L279.2,65.4 L279.1,72.2 L278.8,72.6 L278.7,73.4 L278.0,74.6 L277.9,77.4 L278.8,80.2 L279.1,80.6 L279.1,81.8 L278.7,83.0 L278.7,84.6 L279.1,85.4 L279.2,86.6 L280.3,89.4 L280.3,91.4 L280.7,92.2 L280.8,93.4 L283.6,99.0 L284.3,99.8 L288.1,108.0 L290.5,110.3 L292.1,111.1 L292.9,111.2 L294.1,111.9 L294.9,112.0 L296.5,112.7 L301.7,112.8 L302.9,113.2 L306.1,113.2 L306.7,113.0"/>
<path d="M307.0,114.2 L309.0,113.8 L311.7,112.4 L314.9,110.4 L317.7,107.7 L319.1,105.8 L321.6,100.6 L324.5,96.2 L325.1,94.6 L325.1,92.2 L325.5,90.6 L328.9,84.6 L329.1,82.2 L328.5,80.2 L326.7,76.6 L326.3,75.4 L326.3,74.2 L326.7,73.0 L326.7,69.8 L326.5,69.0 L324.1,62.6 L323.1,60.6 L321.3,57.9 L319.7,56.4 L317.3,54.8 L310.9,51.4 L307.7,50.4 L303.3,50.4 L298.5,52.0 L296.5,52.0 L294.5,52.5 L291.7,54.0 L288.5,55.0 L283.7,57.6 L282.2,58.6 L281.3,59.5 L279.1,62.6 L277.9,65.4 L277.9,71.8 L276.7,74.6 L276.7,77.4 L277.9,81.0 L277.9,81.8 L277.5,83.0 L277.5,85.0 L279.1,89.8 L279.1,91.8 L279.7,93.8 L282.5,99.5 L283.5,101.0 L285.1,104.2 L285.3,105.1 L287.3,108.9 L289.7,111.2 L291.7,112.2 L296.5,114.0 L301.3,114.0 L302.9,114.4 L306.1,114.4 L307.0,114.2"/>
<path d="M273.3,51.6 L276.1,51.5 L280.1,50.2 L281.7,50.0 L282.9,50.0 L285.3,50.8 L286.5,50.9 L288.5,50.7 L292.9,49.6 L294.8,49.8 L295.5,50.2 L295.3,50.7 L294.1,51.1 L291.3,52.7 L287.7,53.9 L281.6,57.4 L280.1,58.9 L278.0,61.8 L277.2,63.4 L276.6,65.4 L276.6,71.4 L275.6,73.8 L275.4,75.0 L275.5,78.2 L276.6,81.4 L276.2,82.6 L276.3,85.4 L277.8,90.2 L277.8,91.8 L278.4,94.2 L281.4,100.2 L282.4,101.8 L286.0,109.4 L288.5,111.9 L289.3,112.5 L293.3,114.3 L296.5,115.3 L301.3,115.3 L302.9,115.7 L306.9,115.6 L309.7,114.9 L312.1,113.7 L315.7,111.5 L318.6,108.6 L320.2,106.6 L323.7,99.6 L325.6,97.0 L326.3,95.0 L326.4,92.6 L326.8,91.0 L330.0,85.4 L330.4,83.8 L330.4,81.8 L330.2,81.0 L327.6,75.0 L328.0,73.0 L327.9,69.0 L325.4,62.2 L324.2,59.8 L322.5,57.3 L320.5,55.3 L317.7,53.5 L314.3,51.8 L313.3,51.1 L311.3,50.1 L308.9,49.3 L308.5,49.0 L309.3,48.7 L310.9,48.6 L315.7,49.2 L318.1,49.4 L318.5,49.3 L318.7,49.0 L318.5,48.4 L318.1,48.1 L311.7,47.6 L305.7,47.6 L300.5,46.9 L296.9,47.6 L292.9,47.5 L291.7,47.9 L289.3,49.3 L287.7,49.8 L286.1,49.8 L283.6,49.0 L282.1,48.9 L276.1,50.3 L273.3,50.6"/>
<path d="M301.3,49.4 L300.1,49.7 L299.5,49.4 L300.1,48.8 L300.9,48.5 L302.9,48.6 L302.4,49.0 L301.3,49.4"/>
<path d="M273.3,52.3 L276.5,52.2 L279.7,51.1 L281.7,50.7 L282.9,50.9 L287.4,52.2 L280.5,56.5 L279.2,57.8 L276.6,61.4 L275.9,63.0 L275.3,65.0 L275.2,71.0 L274.3,73.4 L274.0,74.6 L274.1,78.2 L275.1,81.4 L274.8,82.6 L274.9,85.4 L276.4,90.6 L276.5,92.2 L277.1,94.6 L280.2,101.0 L281.0,102.2 L284.9,110.2 L287.6,113.0 L288.5,113.7 L292.9,115.6 L296.5,116.7 L300.9,116.7 L302.5,117.1 L306.1,117.1 L308.9,116.6 L310.1,116.3 L312.9,114.9 L316.5,112.6 L319.7,109.5 L321.3,107.4 L324.9,100.4 L326.8,97.8 L327.7,95.4 L327.8,93.0 L328.2,91.4 L331.4,85.8 L331.8,83.8 L331.8,81.8 L331.5,80.6 L329.1,75.0 L329.4,73.0 L329.3,68.6 L326.6,61.4 L325.6,59.4 L323.3,56.1 L321.3,54.2 L316.4,51.0 L316.3,50.6 L318.5,50.2 L319.1,49.8 L319.3,49.0 L318.9,48.0 L318.5,47.5 L317.7,47.2 L310.9,46.8 L305.7,47.0 L301.3,46.2 L299.7,46.2 L296.5,46.6 L292.5,46.6 L291.3,47.1 L289.1,48.6 L287.7,49.1 L286.1,49.0 L283.7,48.2 L282.5,48.1 L276.5,49.5 L273.3,49.9"/>
<path d="M273.3,85.7 L274.7,90.6 L274.9,92.6 L275.8,95.8 L278.8,101.8 L279.6,103.0 L283.2,110.6 L284.1,111.8 L286.5,114.2 L287.7,115.1 L289.7,116.1 L295.3,118.1 L296.5,118.3 L300.5,118.3 L302.5,118.7 L306.5,118.7 L310.1,118.0 L313.7,116.3 L317.7,113.7 L321.2,110.2 L322.9,107.9 L326.2,101.4 L328.4,98.2 L329.3,95.4 L329.4,93.4 L329.8,91.8 L331.8,88.6 L332.8,86.6 L333.2,85.4 L333.4,83.8 L333.4,81.8 L333.1,80.2 L332.5,78.5 L330.8,75.0 L331.0,73.0 L331.0,69.4 L330.8,68.2 L328.1,61.0 L327.0,58.6 L324.8,55.4 L322.9,53.4 L320.1,51.3 L319.9,50.6 L320.2,49.4 L320.1,48.6 L319.4,47.4 L318.5,46.6 L317.7,46.3 L311.3,45.9 L304.9,45.9 L300.9,45.3 L296.1,45.7 L293.3,45.7 L291.3,46.1 L288.9,47.7 L287.7,48.1 L286.5,48.1 L284.1,47.4 L282.5,47.2 L277.3,48.6 L273.3,49.2"/>
<path d="M273.3,53.1 L276.5,53.2 L279.7,52.0 L281.3,51.7 L282.5,51.9 L283.1,52.2 L283.3,52.6 L282.9,53.0 L279.3,55.4 L277.8,57.0 L275.2,60.6 L274.5,62.2 L273.7,64.6 L273.6,70.6 L273.3,71.7"/>
<path d="M273.3,93.6 L274.2,96.6 L277.2,102.6 L278.4,104.6 L281.6,111.4 L282.8,113.0 L285.7,115.9 L286.9,116.7 L289.3,117.9 L295.3,119.9 L300.1,120.1 L302.5,120.5 L307.3,120.4 L310.9,119.6 L314.6,117.8 L318.9,115.1 L322.6,111.4 L324.3,109.0 L327.7,102.4 L330.0,99.0 L331.0,96.2 L331.2,93.4 L331.6,92.2 L333.3,89.5 L334.6,87.0 L335.0,85.4 L335.2,83.8 L335.2,81.4 L334.8,79.8 L334.2,77.8 L332.6,74.6 L332.8,69.8 L332.6,67.8 L331.5,64.6 L329.8,60.2 L328.5,57.7 L326.5,54.6 L324.1,52.1 L321.8,50.2 L321.3,48.6 L320.9,47.8 L318.9,45.7 L318.1,45.4 L308.5,44.3 L301.3,44.2 L296.9,44.7 L292.1,45.0 L290.8,45.4 L288.5,46.7 L287.3,47.1 L286.1,47.0 L283.7,46.4 L282.5,46.3 L277.3,47.7 L273.3,48.3"/>
<path d="M273.3,54.0 L277.1,54.6 L277.0,55.0 L274.9,57.8 L273.3,60.5"/>
</g>
<circle cx="300.0" cy="88.6" r="0.55" fill="#fff"/>
<circle cx="298.4" cy="74.3" r="0.55" fill="#fff"/>
<circle cx="297.3" cy="73.1" r="0.55" fill="#fff"/>
<circle cx="300.4" cy="101.1" r="0.55" fill="#fff"/>
<circle cx="297.0" cy="77.6" r="0.55" fill="#fff"/>
<circle cx="302.9" cy="89.3" r="0.55" fill="#fff"/>
<circle cx="300.6" cy="73.8" r="0.55" fill="#fff"/>
<circle cx="299.8" cy="93.3" r="0.55" fill="#fff"/>
<circle cx="291.9" cy="79.5" r="0.55" fill="#fff"/>
<circle cx="288.6" cy="69.5" r="0.55" fill="#fff"/>
<circle cx="288.9" cy="82.2" r="0.55" fill="#fff"/>
<circle cx="292.4" cy="88.3" r="0.55" fill="#fff"/>
<circle cx="300.9" cy="82.8" r="0.55" fill="#fff"/>
<circle cx="299.7" cy="86.4" r="0.55" fill="#fff"/>
<circle cx="290.8" cy="79.3" r="0.55" fill="#fff"/>
<path fill="none" stroke="#151515" stroke-width="0.85" d="M321.0,49.0 L321.8,48.9 L322.9,48.9 L324.2,48.8 L325.6,48.6 L327.0,48.3 L328.3,47.9 L329.7,47.4 L331.0,46.8 L332.5,46.1 L334.0,45.5 L335.6,44.8 L337.2,44.2 L339.0,43.4 L340.7,42.7 L342.5,42.0 L344.3,41.2 L346.1,40.4 L348.0,39.5 L349.9,38.8 L352.0,38.3 L354.3,38.0 L356.8,37.7 L359.3,37.6 L361.7,37.8 L363.6,38.3 L365.1,39.2 L366.3,40.4 L367.2,41.9 L367.9,43.4 L368.4,45.0 L368.7,46.7 L368.8,48.5 L368.6,50.4 L368.2,52.2 L367.5,53.7 L366.3,54.9 L364.7,55.9 L362.9,56.7 L361.2,57.5 L359.8,58.5 L358.8,59.6 L358.0,60.8 L357.3,61.9 L356.7,63.1 L356.0,64.2 L355.3,65.3 L354.6,66.5 L353.9,67.5 L353.0,68.4 L352.0,69.0 L350.7,69.2 L349.1,69.2 L347.5,68.9 L345.9,68.5 L344.4,68.0 L343.1,67.3 L341.9,66.4 L340.7,65.4 L339.6,64.4 L338.6,63.3 L337.7,62.2 L336.9,60.9 L336.2,59.7 L335.5,58.5 L334.8,57.5 L334.1,56.6 L333.4,55.8 L332.7,55.1 L331.9,54.5 L331.0,54.0 L329.8,53.7 L328.5,53.6 L327.1,53.5 L325.9,53.5 L325.0,53.5"/>
<path fill="none" stroke="#151515" stroke-width="0.85" d="M344.4,54.6 L344.5,53.4 L344.9,51.7 L345.6,49.9 L346.3,48.1 L347.0,46.5 L347.6,45.2 L348.1,43.9 L348.7,42.8 L349.4,41.8 L350.2,41.0 L351.2,40.4 L352.3,40.0 L353.6,39.8 L354.8,39.6 L356.0,39.5 L357.2,39.3 L358.4,39.2 L359.6,39.1 L360.7,39.3 L361.7,39.8 L362.6,40.7 L363.5,42.0 L364.3,43.5 L364.9,45.0 L365.2,46.5 L365.3,48.0 L365.1,49.7 L364.8,51.3 L364.2,52.8 L363.4,54.0 L362.3,54.8 L360.8,55.4 L359.2,55.8 L357.6,56.1 L356.0,56.3 L354.5,56.4 L352.8,56.3 L351.3,56.0 L349.8,55.8 L348.5,55.6 L347.4,55.5 L346.3,55.6 L345.4,55.5 L344.7,55.3Z"/>
<ellipse cx="359.8" cy="44.6" rx="1.5" ry="1.3" fill="none" stroke="#151515" stroke-width="0.85"/>
<ellipse cx="349.3" cy="62.4" rx="1.6" ry="1.1" fill="#111"/>
<path fill="none" stroke="#151515" stroke-width="0.85" d="M318.0,46.5 L319.1,46.4 L320.6,46.2 L322.4,46.0 L324.3,45.8 L326.0,45.5 L327.6,45.1 L329.2,44.7 L330.9,44.2 L332.5,43.7 L334.0,43.2 L335.6,42.7 L337.2,42.3 L338.8,41.8 L340.1,41.5 L341.0,41.2"/>
<path fill="none" stroke="#151515" stroke-width="0.85" d="M341.0,66.0 L341.4,66.6 L342.1,67.5 L342.8,68.6 L343.3,69.8 L343.5,71.0 L343.1,72.3 L342.2,73.7 L341.3,75.2 L340.4,76.6 L340.0,78.0 L340.2,79.3 L340.8,80.5 L341.5,81.6 L342.2,82.8 L342.5,84.0 L342.5,85.2 L342.2,86.4 L341.8,87.5 L341.4,88.7 L341.0,90.0 L340.6,91.4 L340.0,92.8 L339.5,94.2 L339.1,95.6 L339.0,97.0 L339.3,98.2 L339.9,99.4 L340.6,100.5 L341.2,101.7 L341.5,103.0 L341.3,104.5 L340.7,106.0 L340.0,107.6 L339.4,109.3 L339.0,111.0 L338.9,112.8 L339.1,114.6 L339.3,116.4 L339.5,118.2 L339.5,120.0 L339.3,121.8 L339.0,123.7 L338.6,125.4 L338.2,126.9 L338.0,128.0"/>
<path fill="none" stroke="#151515" stroke-width="0.85" d="M334.0,69.0 L334.4,69.8 L334.9,70.9 L335.5,72.2 L335.9,73.6 L336.0,75.0 L335.6,76.5 L334.9,78.1 L334.0,79.7 L333.3,81.4 L333.0,83.0 L333.2,84.6 L333.9,86.2 L334.7,87.8 L335.3,89.4 L335.5,91.0 L335.1,92.6 L334.3,94.2 L333.4,95.7 L332.5,97.3 L332.0,99.0 L332.0,100.8 L332.2,102.6 L332.6,104.5 L333.0,106.3 L333.0,108.0 L332.7,109.4 L332.1,110.7 L331.4,111.9 L330.8,113.2 L330.5,115.0 L330.5,117.4 L330.7,120.4 L331.0,123.4 L331.3,126.1 L331.5,128.0"/>
<path fill="none" stroke="#151515" stroke-width="0.85" d="M329.5,62.0 L329.7,63.1 L330.0,64.6 L330.3,66.3 L330.5,68.2 L330.5,70.0 L330.2,71.7 L329.7,73.5 L329.2,75.4 L328.7,77.2 L328.5,79.0 L328.6,80.8 L329.0,82.5 L329.5,84.3 L329.9,86.1 L330.0,88.0 L329.7,90.1 L329.1,92.3 L328.4,94.5 L327.8,96.8 L327.5,99.0 L327.6,101.2 L328.0,103.4 L328.5,105.6 L328.9,107.8 L329.0,110.0 L328.7,112.3 L328.1,114.6 L327.5,116.9 L326.9,119.1 L326.5,121.0 L326.4,122.8 L326.5,124.4 L326.7,125.9 L326.9,127.1 L327.0,128.0"/>
<ellipse cx="326.5" cy="119" rx="1.4" ry="1.6" fill="none" stroke="#151515" stroke-width="0.85"/>
</g>
<g clip-path="url(#cb3)">
<path fill="#0d0d0d" fill-rule="nonzero" d="M421.2,135.0 L421.4,134.8 L423.8,134.8 L424.2,134.4 L425.0,134.4 L425.4,134.0 L425.8,134.0 L426.6,133.2 L427.0,133.2 L427.8,132.4 L428.2,132.4 L429.0,131.6 L429.4,131.6 L430.6,130.4 L431.0,130.4 L432.0,129.4 L432.0,129.0 L433.2,127.8 L433.2,127.4 L433.6,127.0 L433.6,126.6 L434.4,125.8 L434.4,125.4 L434.8,125.0 L434.8,124.6 L435.2,124.2 L435.2,123.8 L436.0,123.0 L436.0,122.6 L436.4,122.2 L436.4,121.8 L437.2,120.6 L437.2,119.8 L437.6,119.4 L437.6,119.0 L438.0,118.6 L438.0,118.2 L438.8,117.0 L438.8,115.4 L439.2,115.0 L439.2,114.2 L438.8,113.8 L438.8,109.8 L439.2,109.4 L439.2,109.0 L439.6,108.6 L439.6,108.2 L440.0,107.8 L440.0,107.4 L440.4,107.0 L440.4,106.6 L440.8,106.2 L440.8,105.8 L441.6,105.0 L441.6,104.6 L442.0,104.2 L442.0,103.8 L442.8,102.6 L442.8,99.0 L442.4,98.6 L442.4,97.8 L442.0,97.4 L442.0,95.0 L442.4,94.6 L442.4,93.4 L442.8,93.0 L442.8,91.4 L442.4,91.0 L442.4,90.6 L442.0,90.2 L442.0,89.8 L441.6,89.4 L441.6,89.0 L441.2,88.6 L441.2,88.2 L440.8,87.8 L440.8,87.4 L440.4,87.0 L440.4,86.6 L440.0,86.2 L440.0,85.0 L439.6,84.6 L439.6,81.0 L440.0,80.6 L440.0,79.4 L440.4,79.0 L440.4,76.2 L440.0,75.8 L440.0,75.0 L439.6,74.6 L439.6,73.8 L439.2,73.4 L439.2,73.0 L438.8,72.6 L438.8,72.2 L438.4,71.8 L438.4,71.4 L438.0,71.0 L438.0,70.6 L437.2,69.8 L437.2,69.4 L436.8,69.0 L436.8,68.6 L436.0,67.8 L436.0,67.4 L435.2,66.6 L435.2,66.2 L434.8,65.8 L434.8,65.4 L432.2,62.8 L431.8,62.8 L431.0,62.0 L430.6,62.0 L430.2,61.6 L429.8,61.6 L428.2,60.0 L427.8,60.0 L426.6,58.8 L426.2,58.8 L425.4,58.0 L425.0,58.0 L424.6,57.6 L423.8,57.6 L423.4,57.2 L422.2,57.2 L421.8,56.8 L420.6,56.8 L420.2,57.2 L419.0,57.2 L418.6,57.6 L417.0,57.6 L416.6,58.0 L412.6,58.0 L412.2,58.4 L411.8,58.4 L411.4,58.8 L411.0,58.8 L410.2,59.6 L409.8,59.6 L408.6,60.4 L407.4,60.4 L407.0,60.8 L406.2,60.8 L405.8,61.2 L405.4,61.2 L403.6,63.0 L403.6,63.8 L403.2,64.2 L403.2,65.0 L402.8,65.4 L402.8,65.8 L402.4,66.2 L402.4,66.6 L397.6,71.4 L397.6,71.8 L396.8,73.0 L396.8,74.2 L397.2,74.6 L397.2,75.8 L397.6,76.2 L397.6,77.0 L398.0,77.4 L398.0,80.2 L397.2,81.4 L397.2,82.2 L396.8,82.6 L396.8,83.4 L396.4,83.8 L396.4,85.0 L396.0,85.4 L396.0,86.6 L395.6,87.0 L395.6,87.8 L395.2,88.2 L395.2,89.4 L394.8,89.8 L394.8,90.6 L395.2,91.0 L395.2,92.2 L395.6,92.6 L395.6,93.0 L396.0,93.4 L396.0,93.8 L396.4,94.2 L396.4,94.6 L396.8,95.0 L396.8,95.4 L397.2,95.8 L397.2,99.4 L396.8,99.8 L396.8,101.4 L396.4,101.8 L396.4,103.8 L396.0,104.2 L396.0,104.6 L396.4,105.0 L396.4,106.6 L396.8,107.0 L396.8,107.4 L397.2,107.8 L397.2,108.2 L398.0,109.4 L398.0,110.2 L398.4,110.6 L398.4,112.6 L398.8,113.0 L398.8,114.2 L399.2,114.6 L399.2,115.4 L399.6,115.8 L399.6,117.0 L400.0,117.4 L400.0,118.6 L400.4,119.0 L400.4,121.0 L400.8,121.4 L400.8,123.0 L401.2,123.4 L401.2,123.8 L402.0,124.6 L402.0,125.0 L404.4,127.4 L404.4,127.8 L406.0,129.4 L406.0,129.8 L408.2,132.0 L408.6,132.0 L409.0,132.4 L409.8,132.4 L410.2,132.8 L411.4,132.8 L411.8,133.2 L413.8,133.2 L414.2,133.6 L415.0,133.6 L415.4,134.0 L416.2,134.0 L416.6,134.4 L417.4,134.4 L417.8,134.8 L418.6,134.8 L418.8,135.0 L421.2,135.0Z"/>
<g fill="none" stroke="#151515" stroke-width="0.8">
<path d="M425.6,135.0 L430.0,132.2 L432.6,130.0 L433.0,129.2 L433.9,128.2 L434.4,127.0 L435.1,126.2 L436.0,124.2 L436.7,123.4 L437.9,121.0 L438.0,120.2 L439.5,117.4 L439.6,115.8 L440.0,115.0 L440.0,114.2 L439.6,113.0 L439.6,110.2 L441.6,106.2 L442.3,105.4 L443.6,102.6 L443.6,99.0 L442.8,96.6 L442.8,95.4 L443.1,95.0 L443.2,93.8 L443.6,93.0 L443.6,91.4 L440.8,85.8 L440.7,84.6 L440.4,84.2 L440.4,81.4 L440.7,81.0 L440.8,79.8 L441.2,79.0 L441.1,75.8 L440.8,75.4 L440.3,73.4 L438.7,70.2 L436.0,66.2 L435.4,64.8 L432.8,62.2 L431.4,61.3 L430.2,60.8 L428.8,59.4 L428.2,59.2 L427.2,58.2 L425.8,57.3 L423.8,56.5 L422.6,56.4 L422.2,56.1 L420.6,56.0 L419.8,56.4 L418.6,56.5 L418.2,56.8 L416.6,56.9 L416.2,57.2 L412.2,57.3 L408.2,59.6 L407.0,59.7 L405.0,60.5 L403.0,62.4 L402.4,64.6 L401.6,66.2 L397.0,70.8 L396.1,72.6 L396.0,74.2 L396.4,75.0 L396.5,76.2 L397.2,77.8 L397.2,79.8 L396.5,81.0 L396.4,81.8 L395.7,83.4 L395.2,86.2 L394.5,87.8 L394.4,89.0 L394.0,89.8 L394.0,90.6 L394.4,91.4 L394.5,92.6 L396.4,96.2 L396.4,96.6 L396.4,99.0 L396.0,99.8 L396.0,101.0 L395.6,101.8 L395.6,103.4 L395.3,103.8 L395.2,104.6 L395.6,105.4 L395.7,107.0 L397.2,109.8 L397.3,110.6 L397.6,111.0 L397.7,113.0 L398.0,113.4 L398.1,114.6 L398.8,116.2 L399.3,119.0 L399.6,119.4 L399.6,121.0 L400.0,121.8 L400.1,123.4 L401.4,125.6 L403.4,127.6 L403.8,128.4 L405.2,129.8 L405.4,130.4 L407.6,132.6 L409.8,133.5 L411.0,133.6 L411.8,134.0 L413.4,134.0 L416.0,135.0"/>
<path d="M427.9,135.0 L432.5,131.8 L434.8,129.0 L437.8,123.9 L440.6,117.8 L440.8,116.2 L441.2,115.0 L441.2,113.8 L440.8,112.6 L440.8,110.6 L442.6,107.0 L443.4,105.9 L444.8,103.0 L444.8,98.6 L444.0,96.2 L444.8,93.4 L444.8,91.4 L444.6,90.6 L442.0,85.4 L441.6,83.8 L441.6,81.8 L442.4,79.0 L442.2,75.4 L441.4,73.0 L439.8,69.7 L436.4,64.2 L433.7,61.4 L430.6,59.5 L429.4,58.4 L426.6,56.4 L423.8,55.2 L422.2,54.8 L420.6,54.8 L417.8,55.6 L416.6,55.6 L415.8,56.0 L411.8,56.2 L407.8,58.4 L406.6,58.6 L404.2,59.6 L402.0,61.8 L401.2,64.2 L400.3,65.8 L396.2,69.9 L394.8,72.6 L394.8,74.6 L396.0,78.2 L396.0,79.4 L395.4,80.6 L394.6,83.0 L394.0,85.8 L393.4,87.4 L392.8,89.8 L392.8,91.0 L393.4,93.0 L395.2,96.6 L395.2,97.0 L395.2,98.6 L394.8,99.4 L394.8,100.6 L394.4,101.4 L394.4,103.0 L394.0,104.2 L394.4,107.0 L396.4,111.4 L396.4,113.0 L398.4,119.8 L398.4,121.4 L398.8,122.2 L398.8,123.4 L399.6,125.0 L400.6,126.5 L402.3,128.2 L403.0,129.3 L403.9,130.2 L404.6,131.3 L406.7,133.4 L408.2,134.2 L410.9,135.0"/>
<path d="M392.6,53.5 L393.8,53.6 L396.6,54.3 L397.8,54.3 L402.2,52.5 L407.8,50.7 L414.2,49.5 L426.2,46.7 L435.8,45.3 L438.6,44.4 L438.7,43.8 L438.2,43.5 L434.6,44.6 L426.6,45.7 L419.8,46.9 L412.1,49.0 L406.2,50.1 L401.9,51.4 L397.8,53.0 L396.2,53.0 L393.8,52.4 L392.6,52.4"/>
<path d="M430.3,135.0 L433.1,133.0 L434.6,131.5 L435.9,129.8 L437.3,127.4 L440.1,122.2 L440.5,121.0 L441.9,118.2 L442.4,115.8 L442.5,113.8 L442.1,112.6 L442.1,111.0 L445.7,104.2 L446.1,103.0 L446.1,98.6 L445.3,96.2 L446.1,93.4 L446.1,91.0 L445.7,89.8 L443.3,85.0 L442.9,83.4 L442.9,82.2 L443.7,79.4 L443.6,75.4 L442.7,72.6 L440.9,69.0 L437.4,63.3 L434.3,60.2 L431.4,58.5 L430.3,57.4 L427.4,55.3 L425.8,54.5 L422.2,53.5 L420.2,53.5 L415.4,54.7 L411.8,54.8 L409.4,55.9 L407.6,57.0 L404.6,57.9 L403.3,58.6 L401.0,60.9 L399.3,65.0 L395.0,69.3 L393.8,71.6 L393.5,72.6 L393.5,74.6 L394.7,79.0 L393.3,82.6 L392.6,85.6"/>
<path d="M392.6,94.4 L393.8,96.8 L393.9,97.4 L393.9,98.2 L393.1,101.4 L393.1,102.6 L392.7,103.8 L392.7,105.0 L393.3,107.8 L394.7,110.6 L395.1,111.8 L395.2,113.4 L397.1,120.2 L397.1,121.4 L397.7,124.2 L399.4,127.1 L401.3,129.0 L403.7,132.2 L405.8,134.3 L406.8,135.0"/>
<path d="M392.6,54.5 L393.8,54.4 L396.6,55.2 L398.2,55.1 L402.1,53.4 L408.6,51.2 L415.4,50.1 L426.2,47.4 L437.0,45.7 L439.0,45.0 L439.3,44.6 L439.5,43.8 L439.0,43.0 L438.2,42.8 L434.2,44.0 L427.8,44.8 L420.2,46.0 L411.4,48.5 L405.8,49.4 L397.4,52.3 L396.2,52.3 L393.8,51.7 L392.6,51.6"/>
<path d="M432.7,135.0 L434.2,133.9 L435.4,132.7 L437.0,130.6 L440.1,125.4 L441.5,122.6 L443.2,118.6 L443.8,115.8 L443.9,113.8 L443.5,112.2 L443.5,111.4 L447.1,104.6 L447.5,103.0 L447.5,98.6 L446.8,96.2 L447.5,93.4 L447.4,90.6 L447.1,89.4 L444.7,84.6 L444.3,83.0 L445.1,79.4 L445.0,75.0 L443.9,71.8 L442.2,68.5 L438.6,62.6 L435.0,59.0 L432.4,57.4 L431.0,56.2 L428.2,54.2 L426.2,53.2 L422.6,52.2 L420.6,52.1 L415.0,53.3 L411.8,53.4 L410.6,53.7 L407.0,55.7 L404.2,56.5 L402.1,57.8 L400.2,59.7 L399.5,60.6 L398.1,64.2 L394.1,68.2 L392.6,70.9"/>
<path d="M392.6,76.8 L393.2,78.6 L392.6,80.4"/>
<path d="M392.6,109.5 L393.7,112.2 L393.8,113.8 L395.7,120.6 L395.8,121.8 L396.5,125.0 L398.5,128.2 L400.1,129.8 L402.5,133.0 L404.5,135.0"/>
<path d="M435.4,135.0 L436.6,133.8 L438.2,131.7 L439.8,129.1 L442.9,123.4 L444.6,119.5 L445.5,115.4 L445.5,113.4 L445.1,111.8 L448.5,105.4 L449.0,103.8 L449.1,98.6 L448.5,96.2 L449.1,93.8 L449.1,90.6 L448.6,89.0 L446.3,84.2 L446.0,83.0 L446.7,79.4 L446.6,75.0 L445.4,71.4 L443.4,67.3 L439.8,61.5 L436.6,58.2 L433.4,56.1 L430.5,53.8 L428.6,52.5 L425.4,51.2 L421.6,50.2 L421.9,49.8 L426.2,48.3 L432.6,47.1 L436.6,46.6 L438.6,46.1 L439.4,45.7 L440.0,45.0 L440.2,43.8 L440.0,43.0 L439.0,42.0 L437.8,41.9 L435.4,42.9 L433.8,43.3 L429.0,43.8 L419.8,45.2 L411.0,47.8 L405.8,48.6 L397.4,51.4 L396.2,51.4 L393.8,50.9 L392.6,50.8"/>
<path d="M406.6,53.9 L405.5,53.8 L405.9,53.4 L406.8,53.0 L407.7,53.0 L406.6,53.9"/>
<path d="M392.6,55.6 L393.8,55.6 L396.6,56.2 L397.8,56.3 L399.0,56.0 L401.5,55.0 L402.6,54.8 L402.9,55.0 L401.4,56.1 L398.7,59.0 L397.8,60.5 L396.9,63.0 L392.6,67.5"/>
<path d="M392.6,115.3 L393.7,119.4 L394.6,124.2 L395.1,125.8 L397.1,129.0 L398.6,130.6 L401.1,133.8 L402.2,135.0"/>
<path d="M437.9,135.0 L440.0,132.2 L443.1,127.0 L446.5,119.4 L447.3,115.4 L447.1,111.8 L450.1,106.2 L450.8,103.8 L450.9,98.6 L450.4,96.2 L450.9,93.8 L450.9,90.6 L450.3,88.2 L448.1,83.8 L447.9,83.0 L448.5,79.4 L448.5,75.8 L448.3,74.2 L447.1,70.6 L445.1,66.6 L441.4,60.6 L437.9,57.0 L427.8,49.8 L427.9,49.4 L428.8,49.0 L431.8,48.2 L437.4,47.5 L439.4,46.9 L440.3,46.2 L440.9,45.0 L441.1,43.4 L440.6,42.2 L439.4,41.1 L438.6,40.7 L437.8,40.6 L435.0,42.0 L433.8,42.4 L429.4,42.8 L424.6,43.7 L420.6,44.1 L414.6,45.6 L411.0,46.7 L406.6,47.4 L397.4,50.5 L396.2,50.5 L393.8,50.0 L392.6,49.9"/>
<path d="M392.6,57.0 L393.8,56.9 L395.4,57.2 L396.6,57.8 L396.8,58.2 L395.3,62.2 L392.6,64.9"/>
<path d="M392.6,123.2 L393.2,125.8 L394.4,128.2 L395.7,130.2 L397.3,131.8 L399.7,135.0"/>
</g>
<circle cx="412.1" cy="80.7" r="0.55" fill="#fff"/>
<circle cx="424.4" cy="80.7" r="0.55" fill="#fff"/>
<circle cx="417.8" cy="104.4" r="0.55" fill="#fff"/>
<circle cx="414.5" cy="90.4" r="0.55" fill="#fff"/>
<circle cx="418.7" cy="92.9" r="0.55" fill="#fff"/>
<circle cx="410.6" cy="93.1" r="0.55" fill="#fff"/>
<circle cx="426.2" cy="70.3" r="0.55" fill="#fff"/>
<circle cx="423.2" cy="93.7" r="0.55" fill="#fff"/>
<circle cx="414.2" cy="120.0" r="0.55" fill="#fff"/>
<circle cx="422.6" cy="75.2" r="0.55" fill="#fff"/>
<circle cx="418.4" cy="100.1" r="0.55" fill="#fff"/>
<circle cx="416.9" cy="101.6" r="0.55" fill="#fff"/>
<circle cx="417.6" cy="101.3" r="0.55" fill="#fff"/>
<circle cx="426.6" cy="82.5" r="0.55" fill="#fff"/>
<circle cx="419.2" cy="85.5" r="0.55" fill="#fff"/>
<circle cx="418.8" cy="75.4" r="0.55" fill="#fff"/>
<circle cx="414.5" cy="89.3" r="0.55" fill="#fff"/>
<circle cx="423.4" cy="108.0" r="0.55" fill="#fff"/>
<path fill="none" stroke="#151515" stroke-width="0.85" d="M399.0,55.5 L400.2,54.7 L402.0,53.6 L404.0,52.4 L406.1,51.1 L408.0,50.0 L409.8,49.1 L411.6,48.2 L413.4,47.4 L415.2,46.6 L417.0,46.0 L418.8,45.5 L420.5,45.1 L422.3,44.7 L424.1,44.4 L426.0,44.0 L428.1,43.5 L430.2,43.0 L432.5,42.5 L434.7,42.0 L436.9,41.5 L439.0,41.1 L441.0,40.8 L443.1,40.4 L445.2,40.1 L447.3,39.8 L449.5,39.4 L451.8,39.1 L454.1,38.7 L456.5,38.4 L458.8,38.1 L461.2,37.8 L463.6,37.5 L466.0,37.3 L468.3,37.2 L470.4,37.2 L472.3,37.4 L474.1,37.6 L475.7,38.0 L477.2,38.5 L478.5,39.2 L479.7,40.1 L480.8,41.1 L481.7,42.3 L482.5,43.6 L483.1,45.0 L483.5,46.5 L483.7,48.1 L483.8,49.8 L483.8,51.5 L483.7,53.1 L483.6,54.6 L483.5,56.1 L483.3,57.5 L482.9,58.8 L482.5,60.0 L481.9,61.1 L481.1,62.1 L480.3,63.0 L479.4,63.8 L478.5,64.6 L477.6,65.4 L476.6,66.1 L475.6,66.8 L474.7,67.4 L473.8,68.0 L473.1,68.5 L472.4,69.0 L471.8,69.5 L471.1,69.9 L470.4,70.4 L469.6,70.9 L468.6,71.5 L467.7,72.0 L466.7,72.4 L465.8,72.7 L464.9,72.7 L463.9,72.6 L462.9,72.4 L462.0,72.2 L461.2,72.1 L460.5,72.1 L459.8,72.1 L459.2,72.2 L458.7,72.4 L458.3,72.7 L458.1,73.2 L457.9,73.9 L457.9,74.7 L457.9,75.5 L457.7,76.2 L457.4,76.9 L457.0,77.5 L456.6,78.2 L456.2,78.8 L456.0,79.6 L456.0,80.4 L456.1,81.3 L456.4,82.2 L456.5,83.2 L456.5,84.2 L456.3,85.2 L456.0,86.3 L455.6,87.5 L455.1,88.7 L454.8,90.0 L454.5,91.4 L454.2,92.9 L453.9,94.6 L453.7,96.2 L453.5,98.0 L453.3,99.9 L453.2,101.9 L453.2,103.9 L453.1,106.0 L453.0,108.0 L452.9,110.0 L452.8,112.0 L452.7,114.0 L452.6,116.0 L452.5,118.0 L452.4,120.2 L452.3,122.5 L452.2,124.7 L452.1,126.6 L452.0,128.0"/>
<path fill="none" stroke="#151515" stroke-width="0.85" d="M459.4,46.2 L459.9,45.6 L460.6,44.9 L461.5,44.3 L462.5,43.7 L463.5,43.3 L464.6,43.0 L465.7,42.7 L466.9,42.5 L468.1,42.5 L469.2,42.7 L470.2,43.1 L471.3,43.8 L472.2,44.6 L473.1,45.4 L473.8,46.2 L474.4,47.0 L474.9,47.8 L475.3,48.6 L475.5,49.4 L475.6,50.2 L475.5,51.0 L475.3,51.8 L474.9,52.6 L474.4,53.2 L473.8,53.7 L473.1,54.0 L472.2,54.1 L471.3,54.0 L470.2,53.9 L469.2,53.7 L468.1,53.4 L466.9,52.9 L465.7,52.4 L464.5,51.8 L463.5,51.3 L462.6,50.8 L461.8,50.4 L461.1,50.0 L460.5,49.5 L460.0,49.0 L459.6,48.5 L459.3,47.9 L459.2,47.4 L459.2,46.8Z"/>
<path fill="none" stroke="#151515" stroke-width="0.85" d="M457.7,43.3 L458.6,42.6 L459.9,42.0 L461.5,41.6 L463.1,41.3 L464.6,41.0 L466.0,40.7 L467.5,40.4 L468.9,40.3 L470.3,40.2 L471.5,40.4 L472.6,40.8 L473.7,41.4 L474.6,42.1 L475.4,42.9 L476.2,43.8 L476.9,44.8 L477.5,46.0 L477.9,47.2 L478.3,48.4 L478.5,49.6 L478.5,50.7 L478.4,51.9 L478.2,53.0 L477.8,54.0 L477.3,54.8 L476.6,55.5 L475.8,56.1 L474.8,56.6 L473.8,56.9 L472.7,57.1 L471.6,57.1 L470.4,57.0 L469.2,56.7 L468.0,56.4 L466.9,56.0 L465.9,55.5 L464.9,55.0 L464.0,54.4 L463.2,53.7 L462.3,53.1 L461.4,52.5 L460.5,51.9 L459.6,51.2 L458.9,50.5 L458.3,49.6 L457.8,48.5 L457.5,47.1 L457.2,45.7 L457.3,44.3Z"/>
<path fill="none" stroke="#151515" stroke-width="0.85" d="M445.0,46.2 L446.0,45.5 L447.4,44.6 L449.1,43.8 L451.1,43.0 L453.0,42.3 L455.0,41.7 L457.2,41.3 L459.5,40.8 L461.8,40.5 L464.0,40.3 L466.1,40.1 L468.3,40.1 L470.4,40.1 L472.3,40.2 L474.0,40.6 L475.5,41.2 L476.8,42.0 L477.9,42.9 L478.8,44.0 L479.6,45.0 L480.1,46.1 L480.4,47.3 L480.6,48.6 L480.6,49.8 L480.6,51.0 L480.6,52.2 L480.5,53.3 L480.4,54.4 L480.1,55.5 L479.6,56.5 L478.9,57.5 L478.1,58.5 L477.1,59.5 L476.1,60.2 L475.0,60.6 L473.9,60.5 L472.7,60.0 L471.5,59.3 L470.3,58.7 L469.2,58.3 L468.2,58.3 L467.2,58.4 L466.2,58.6 L465.4,58.8 L464.6,58.8 L464.0,58.6 L463.7,58.3 L463.4,57.9 L462.9,57.5 L462.3,57.1 L461.4,56.8 L460.2,56.4 L459.0,56.1 L457.7,55.8 L456.5,55.4 L455.3,55.0 L454.0,54.6 L452.8,54.1 L451.7,53.6 L450.8,53.1 L450.3,52.4 L450.1,51.6 L450.0,50.8 L449.9,50.1 L449.6,49.6 L449.0,49.3 L448.3,49.3 L447.5,49.3 L446.8,49.2 L446.2,49.0 L445.7,48.6 L445.1,48.1 L444.7,47.5 L444.6,46.9Z"/>
<path fill="none" stroke="#151515" stroke-width="0.85" d="M437.0,47.0 L437.6,47.4 L438.3,48.0 L439.2,48.7 L440.2,49.4 L441.0,50.0 L441.7,50.6 L442.5,51.1 L443.2,51.7 L443.9,52.3 L444.5,53.0 L445.0,53.8 L445.5,54.8 L445.9,55.7 L446.4,56.7 L447.0,57.5 L447.7,58.2 L448.4,58.9 L449.3,59.5 L450.1,60.1 L451.0,60.5 L451.9,60.8 L452.9,61.0 L453.9,61.2 L454.9,61.3 L456.0,61.5 L457.1,61.7 L458.3,62.0 L459.6,62.2 L460.8,62.4 L462.0,62.5 L463.2,62.5 L464.4,62.3 L465.7,62.1 L466.9,62.0 L468.0,62.0 L469.1,62.2 L470.3,62.5 L471.4,62.9 L472.3,63.3 L473.0,63.5"/>
<path fill="none" stroke="#151515" stroke-width="0.85" d="M438.0,54.0 L438.2,54.5 L438.6,55.3 L439.0,56.2 L439.4,57.1 L440.0,58.0 L440.7,58.8 L441.5,59.6 L442.4,60.4 L443.2,61.2 L444.0,62.0 L444.7,62.8 L445.3,63.6 L445.8,64.4 L446.4,65.2 L447.0,66.0 L447.6,66.7 L448.2,67.4 L448.9,68.1 L449.5,68.7 L450.0,69.5 L450.5,70.3 L451.0,71.2 L451.5,72.0 L451.8,73.0 L452.0,74.0 L452.0,75.1 L451.8,76.2 L451.6,77.4 L451.3,78.6 L451.0,80.0 L450.7,81.4 L450.4,83.0 L450.1,84.6 L449.7,86.2 L449.5,88.0 L449.3,89.8 L449.2,91.8 L449.2,93.8 L449.1,95.8 L449.0,98.0 L448.9,100.2 L448.8,102.4 L448.7,104.7 L448.6,107.2 L448.5,110.0 L448.4,113.5 L448.3,117.6 L448.2,121.8 L448.1,125.5 L448.0,128.0"/>
<path fill="none" stroke="#151515" stroke-width="0.85" d="M441.0,61.0 L441.3,61.7 L441.8,62.6 L442.4,63.7 L443.0,64.9 L443.5,66.0 L444.0,67.1 L444.6,68.2 L445.1,69.4 L445.6,70.7 L446.0,72.0 L446.3,73.4 L446.6,75.0 L446.9,76.6 L447.0,78.2 L447.0,80.0 L446.8,81.9 L446.5,83.9 L446.1,85.9 L445.8,88.0 L445.5,90.0 L445.3,92.0 L445.2,93.9 L445.2,95.9 L445.1,97.9 L445.0,100.0 L444.9,102.2 L444.8,104.5 L444.7,106.8 L444.6,109.3 L444.5,112.0 L444.4,115.2 L444.3,118.9 L444.2,122.6 L444.1,125.8 L444.0,128.0"/>
</g>
<rect x="38" y="19.5" width="478.8" height="109" fill="none" stroke="#111" stroke-width="1.3"/>
<line x1="159.30" y1="19.50" x2="159.30" y2="128.50" stroke="#111" stroke-width="1.3"/>
<line x1="279.30" y1="19.50" x2="279.30" y2="128.50" stroke="#111" stroke-width="1.3"/>
<line x1="398.60" y1="19.50" x2="398.60" y2="128.50" stroke="#111" stroke-width="1.3"/>
<ellipse cx="116.5" cy="49.5" rx="24.5" ry="21.5" fill="none" stroke="#4c4c94" stroke-width="1"/>
<ellipse cx="237.6" cy="48.8" rx="24.3" ry="21.8" fill="none" stroke="#4c4c94" stroke-width="1"/>
<ellipse cx="350.6" cy="49.6" rx="24.6" ry="23.4" fill="none" stroke="#4c4c94" stroke-width="1"/>
<ellipse cx="464.3" cy="52.4" rx="26.6" ry="24.4" fill="none" stroke="#4c4c94" stroke-width="1"/>
<text x="117.00" y="49.86" font-size="8" text-anchor="middle" fill="#000" font-weight="bold">0%</text>
<text x="238.40" y="49.86" font-size="8" text-anchor="middle" fill="#000" font-weight="bold">0%</text>
<text x="381.50" y="33.86" font-size="8" text-anchor="middle" fill="#000" font-weight="bold">2.58%</text>
<text x="500.00" y="34.86" font-size="8" text-anchor="middle" fill="#000" font-weight="bold">4.59%</text>
<polygon points="6.8,28.3 16.8,28.3 11.8,19.8" fill="#000"/>
<line x1="11.80" y1="27.00" x2="11.80" y2="90.50" stroke="#000" stroke-width="1.5"/>
<text x="12.50" y="113.30" dy="3.58" font-size="10" text-anchor="middle" fill="#000" font-weight="bold" transform="rotate(-90 12.50 113.30)">CD38</text>
<text x="23.55" y="31.86" font-size="8" font-weight="bold">10<tspan font-size="5.5" dy="-3.60">5</tspan></text>
<line x1="35.50" y1="29.80" x2="38.00" y2="29.80" stroke="#000" stroke-width="1"/>
<text x="23.55" y="56.06" font-size="8" font-weight="bold">10<tspan font-size="5.5" dy="-3.60">4</tspan></text>
<line x1="35.50" y1="54.00" x2="38.00" y2="54.00" stroke="#000" stroke-width="1"/>
<text x="23.55" y="81.56" font-size="8" font-weight="bold">10<tspan font-size="5.5" dy="-3.60">3</tspan></text>
<line x1="35.50" y1="79.50" x2="38.00" y2="79.50" stroke="#000" stroke-width="1"/>
<text x="23.55" y="107.76" font-size="8" font-weight="bold">10<tspan font-size="5.5" dy="-3.60">2</tspan></text>
<line x1="35.50" y1="105.70" x2="38.00" y2="105.70" stroke="#000" stroke-width="1"/>
<text x="35.00" y="120.46" font-size="8" text-anchor="end" fill="#000" font-weight="bold">0</text>
<line x1="35.50" y1="118.40" x2="38.00" y2="118.40" stroke="#000" stroke-width="1"/>
<line x1="51.30" y1="128.50" x2="51.30" y2="131.80" stroke="#000" stroke-width="1"/>
<text x="51.30" y="141.46" font-size="8" text-anchor="middle" fill="#000" font-weight="bold">0</text>
<line x1="63.50" y1="128.50" x2="63.50" y2="131.80" stroke="#000" stroke-width="1"/>
<text x="58.32" y="141.46" font-size="8" font-weight="bold">10<tspan font-size="5.5" dy="-3.60">2</tspan></text>
<line x1="91.50" y1="128.50" x2="91.50" y2="131.80" stroke="#000" stroke-width="1"/>
<text x="86.32" y="141.46" font-size="8" font-weight="bold">10<tspan font-size="5.5" dy="-3.60">3</tspan></text>
<line x1="118.60" y1="128.50" x2="118.60" y2="131.80" stroke="#000" stroke-width="1"/>
<text x="113.42" y="141.46" font-size="8" font-weight="bold">10<tspan font-size="5.5" dy="-3.60">4</tspan></text>
<line x1="146.00" y1="128.50" x2="146.00" y2="131.80" stroke="#000" stroke-width="1"/>
<text x="140.82" y="141.46" font-size="8" font-weight="bold">10<tspan font-size="5.5" dy="-3.60">5</tspan></text>
<line x1="171.80" y1="128.50" x2="171.80" y2="131.80" stroke="#000" stroke-width="1"/>
<text x="171.80" y="141.46" font-size="8" text-anchor="middle" fill="#000" font-weight="bold">0</text>
<line x1="183.50" y1="128.50" x2="183.50" y2="131.80" stroke="#000" stroke-width="1"/>
<text x="178.32" y="141.46" font-size="8" font-weight="bold">10<tspan font-size="5.5" dy="-3.60">2</tspan></text>
<line x1="211.50" y1="128.50" x2="211.50" y2="131.80" stroke="#000" stroke-width="1"/>
<text x="206.32" y="141.46" font-size="8" font-weight="bold">10<tspan font-size="5.5" dy="-3.60">3</tspan></text>
<line x1="239.00" y1="128.50" x2="239.00" y2="131.80" stroke="#000" stroke-width="1"/>
<text x="233.82" y="141.46" font-size="8" font-weight="bold">10<tspan font-size="5.5" dy="-3.60">4</tspan></text>
<line x1="266.00" y1="128.50" x2="266.00" y2="131.80" stroke="#000" stroke-width="1"/>
<text x="260.82" y="141.46" font-size="8" font-weight="bold">10<tspan font-size="5.5" dy="-3.60">5</tspan></text>
<line x1="291.00" y1="128.50" x2="291.00" y2="131.80" stroke="#000" stroke-width="1"/>
<text x="291.00" y="141.46" font-size="8" text-anchor="middle" fill="#000" font-weight="bold">0</text>
<line x1="303.00" y1="128.50" x2="303.00" y2="131.80" stroke="#000" stroke-width="1"/>
<text x="297.82" y="141.46" font-size="8" font-weight="bold">10<tspan font-size="5.5" dy="-3.60">2</tspan></text>
<line x1="331.00" y1="128.50" x2="331.00" y2="131.80" stroke="#000" stroke-width="1"/>
<text x="325.82" y="141.46" font-size="8" font-weight="bold">10<tspan font-size="5.5" dy="-3.60">3</tspan></text>
<line x1="358.50" y1="128.50" x2="358.50" y2="131.80" stroke="#000" stroke-width="1"/>
<text x="353.32" y="141.46" font-size="8" font-weight="bold">10<tspan font-size="5.5" dy="-3.60">4</tspan></text>
<line x1="385.50" y1="128.50" x2="385.50" y2="131.80" stroke="#000" stroke-width="1"/>
<text x="380.32" y="141.46" font-size="8" font-weight="bold">10<tspan font-size="5.5" dy="-3.60">5</tspan></text>
<line x1="410.20" y1="128.50" x2="410.20" y2="131.80" stroke="#000" stroke-width="1"/>
<text x="410.20" y="141.46" font-size="8" text-anchor="middle" fill="#000" font-weight="bold">0</text>
<line x1="422.80" y1="128.50" x2="422.80" y2="131.80" stroke="#000" stroke-width="1"/>
<text x="417.62" y="141.46" font-size="8" font-weight="bold">10<tspan font-size="5.5" dy="-3.60">2</tspan></text>
<line x1="451.20" y1="128.50" x2="451.20" y2="131.80" stroke="#000" stroke-width="1"/>
<text x="446.02" y="141.46" font-size="8" font-weight="bold">10<tspan font-size="5.5" dy="-3.60">3</tspan></text>
<line x1="479.70" y1="128.50" x2="479.70" y2="131.80" stroke="#000" stroke-width="1"/>
<text x="474.52" y="141.46" font-size="8" font-weight="bold">10<tspan font-size="5.5" dy="-3.60">4</tspan></text>
<line x1="506.20" y1="128.50" x2="506.20" y2="131.80" stroke="#000" stroke-width="1"/>
<text x="501.02" y="141.46" font-size="8" font-weight="bold">10<tspan font-size="5.5" dy="-3.60">5</tspan></text>
<text x="37.00" y="157.20" font-size="9.5" text-anchor="start" fill="#000" font-weight="bold">CD27</text>
<line x1="68.00" y1="153.80" x2="508.00" y2="153.80" stroke="#000" stroke-width="1.5"/>
<polygon points="506.3,149.2 515.5,153.8 506.3,158.4" fill="#000"/>
<text x="7.8" y="178.6" font-size="15" font-weight="bold" style="stroke-width:0.5px">B</text>
<line x1="58.00" y1="185.20" x2="58.00" y2="290.40" stroke="#000" stroke-width="1.6"/>
<line x1="53.00" y1="289.60" x2="210.00" y2="289.60" stroke="#000" stroke-width="1.6"/>
<line x1="52.50" y1="289.60" x2="58.00" y2="289.60" stroke="#000" stroke-width="1.3"/>
<text x="51.50" y="292.46" font-size="8" text-anchor="end" fill="#000" font-weight="bold">0</text>
<line x1="52.50" y1="255.14" x2="58.00" y2="255.14" stroke="#000" stroke-width="1.3"/>
<text x="51.50" y="258.00" font-size="8" text-anchor="end" fill="#000" font-weight="bold">2000</text>
<line x1="52.50" y1="220.68" x2="58.00" y2="220.68" stroke="#000" stroke-width="1.3"/>
<text x="51.50" y="223.54" font-size="8" text-anchor="end" fill="#000" font-weight="bold">4000</text>
<line x1="52.50" y1="186.22" x2="58.00" y2="186.22" stroke="#000" stroke-width="1.3"/>
<text x="51.50" y="189.08" font-size="8" text-anchor="end" fill="#000" font-weight="bold">6000</text>
<line x1="65.00" y1="289.60" x2="65.00" y2="294.50" stroke="#000" stroke-width="1.3"/>
<text x="65.00" y="302.16" font-size="8" text-anchor="middle" fill="#000" font-weight="bold">0</text>
<line x1="80.50" y1="289.60" x2="80.50" y2="294.50" stroke="#000" stroke-width="1.3"/>
<text x="80.50" y="302.16" font-size="8" text-anchor="middle" fill="#000" font-weight="bold">1</text>
<line x1="95.75" y1="289.60" x2="95.75" y2="294.50" stroke="#000" stroke-width="1.3"/>
<text x="95.75" y="302.16" font-size="8" text-anchor="middle" fill="#000" font-weight="bold">5</text>
<line x1="110.75" y1="289.60" x2="110.75" y2="294.50" stroke="#000" stroke-width="1.3"/>
<text x="110.75" y="302.16" font-size="8" text-anchor="middle" fill="#000" font-weight="bold">10</text>
<line x1="141.75" y1="289.60" x2="141.75" y2="294.50" stroke="#000" stroke-width="1.3"/>
<text x="141.75" y="302.16" font-size="8" text-anchor="middle" fill="#000" font-weight="bold">20</text>
<line x1="202.50" y1="289.60" x2="202.50" y2="294.50" stroke="#000" stroke-width="1.3"/>
<text x="202.50" y="302.16" font-size="8" text-anchor="middle" fill="#000" font-weight="bold">50</text>
<text x="14.00" y="237.80" dy="3.65" font-size="10.2" text-anchor="middle" fill="#000" font-weight="bold" transform="rotate(-90 14.00 237.80)">CD25 Expression (MFI)</text>
<text x="135.20" y="314.60" font-size="9.5" text-anchor="middle" fill="#000" font-weight="bold">Concentration of IL-21</text>
<text x="137.00" y="323.70" font-size="9.5" text-anchor="middle" fill="#000" font-weight="bold">(ng/ml)</text>
<polyline points="65.00,280.50 80.50,270.00 95.75,255.50 110.75,251.25 141.75,237.00 202.50,205.75" fill="none" stroke="#c42a32" stroke-width="2.1" stroke-linejoin="round"/>
<circle cx="65" cy="280.5" r="2.3" fill="#c42a32"/>
<circle cx="80.5" cy="270" r="2.3" fill="#c42a32"/>
<circle cx="95.75" cy="255.5" r="2.3" fill="#c42a32"/>
<circle cx="110.75" cy="251.25" r="2.3" fill="#c42a32"/>
<circle cx="141.75" cy="237" r="2.3" fill="#c42a32"/>
<circle cx="202.5" cy="205.75" r="2.3" fill="#c42a32"/>
<polyline points="65.00,278.00 80.50,270.00 95.75,262.00 110.75,261.50 141.75,255.75 202.50,236.25" fill="none" stroke="#4d57a8" stroke-width="2.1" stroke-linejoin="round"/>
<rect x="62.90" y="275.90" width="4.20" height="4.20" fill="#4d57a8"/>
<rect x="78.40" y="267.90" width="4.20" height="4.20" fill="#4d57a8"/>
<rect x="93.65" y="259.90" width="4.20" height="4.20" fill="#4d57a8"/>
<rect x="108.65" y="259.40" width="4.20" height="4.20" fill="#4d57a8"/>
<rect x="139.65" y="253.65" width="4.20" height="4.20" fill="#4d57a8"/>
<rect x="200.40" y="234.15" width="4.20" height="4.20" fill="#4d57a8"/>
<rect x="65.50" y="186.00" width="10.50" height="6.30" fill="#46509e" stroke="#15153a" stroke-width="1.3"/>
<rect x="65.50" y="197.80" width="10.50" height="6.50" fill="#c01d26" stroke="#3a0808" stroke-width="1.3"/>
<text x="80.50" y="191.66" font-size="8" text-anchor="start" fill="#000" font-weight="bold">No IL-2</text>
<text x="80.50" y="203.86" font-size="8" text-anchor="start" fill="#000" font-weight="bold">+ IL-2</text>
<text x="265.4" y="184.6" font-size="15" font-weight="bold" style="stroke-width:0.5px">C</text>
<line x1="304.80" y1="183.00" x2="304.80" y2="290.00" stroke="#000" stroke-width="1.6"/>
<line x1="300.50" y1="289.25" x2="488.60" y2="289.25" stroke="#000" stroke-width="1.6"/>
<line x1="300.30" y1="289.25" x2="304.80" y2="289.25" stroke="#000" stroke-width="1.3"/>
<text x="299.80" y="292.11" font-size="8" text-anchor="end" fill="#000" font-weight="bold">0</text>
<line x1="300.30" y1="268.15" x2="304.80" y2="268.15" stroke="#000" stroke-width="1.3"/>
<text x="299.80" y="271.01" font-size="8" text-anchor="end" fill="#000" font-weight="bold">5</text>
<line x1="300.30" y1="247.05" x2="304.80" y2="247.05" stroke="#000" stroke-width="1.3"/>
<text x="299.80" y="249.91" font-size="8" text-anchor="end" fill="#000" font-weight="bold">10</text>
<line x1="300.30" y1="225.95" x2="304.80" y2="225.95" stroke="#000" stroke-width="1.3"/>
<text x="299.80" y="228.81" font-size="8" text-anchor="end" fill="#000" font-weight="bold">15</text>
<line x1="300.30" y1="204.85" x2="304.80" y2="204.85" stroke="#000" stroke-width="1.3"/>
<text x="299.80" y="207.71" font-size="8" text-anchor="end" fill="#000" font-weight="bold">20</text>
<line x1="300.30" y1="183.75" x2="304.80" y2="183.75" stroke="#000" stroke-width="1.3"/>
<text x="299.80" y="186.61" font-size="8" text-anchor="end" fill="#000" font-weight="bold">25</text>
<line x1="316.25" y1="289.25" x2="316.25" y2="293.80" stroke="#000" stroke-width="1.3"/>
<text x="316.25" y="301.26" font-size="8" text-anchor="middle" fill="#000" font-weight="bold">0</text>
<line x1="336.25" y1="289.25" x2="336.25" y2="293.80" stroke="#000" stroke-width="1.3"/>
<text x="336.25" y="301.26" font-size="8" text-anchor="middle" fill="#000" font-weight="bold">1</text>
<line x1="357.00" y1="289.25" x2="357.00" y2="293.80" stroke="#000" stroke-width="1.3"/>
<text x="357.00" y="301.26" font-size="8" text-anchor="middle" fill="#000" font-weight="bold">5</text>
<line x1="377.50" y1="289.25" x2="377.50" y2="293.80" stroke="#000" stroke-width="1.3"/>
<text x="377.50" y="301.26" font-size="8" text-anchor="middle" fill="#000" font-weight="bold">10</text>
<line x1="418.50" y1="289.25" x2="418.50" y2="293.80" stroke="#000" stroke-width="1.3"/>
<text x="418.50" y="301.26" font-size="8" text-anchor="middle" fill="#000" font-weight="bold">20</text>
<line x1="480.00" y1="289.25" x2="480.00" y2="293.80" stroke="#000" stroke-width="1.3"/>
<text x="480.00" y="301.26" font-size="8" text-anchor="middle" fill="#000" font-weight="bold">50</text>
<text x="271.00" y="241.00" dy="3.58" font-size="10" text-anchor="middle" fill="#000" font-weight="bold" transform="rotate(-90 271.00 241.00)">Plasmablasts</text>
<text x="281.40" y="239.00" dy="3.58" font-size="10" text-anchor="middle" fill="#000" font-weight="bold" transform="rotate(-90 281.40 239.00)">(% of live cells)</text>
<text x="397.60" y="313.84" font-size="9.6" text-anchor="middle" fill="#000" font-weight="bold">Concentration of IL-21</text>
<text x="399.70" y="322.64" font-size="9.6" text-anchor="middle" fill="#000" font-weight="bold">(ng/ml)</text>
<line x1="336.25" y1="284.61" x2="336.25" y2="282.92" stroke="#6a82c6" stroke-width="1.5"/>
<line x1="333.05" y1="282.92" x2="339.45" y2="282.92" stroke="#6a82c6" stroke-width="1.5"/>
<line x1="357.00" y1="263.93" x2="357.00" y2="261.82" stroke="#6a82c6" stroke-width="1.5"/>
<line x1="353.80" y1="261.82" x2="360.20" y2="261.82" stroke="#6a82c6" stroke-width="1.5"/>
<line x1="377.50" y1="252.96" x2="377.50" y2="240.72" stroke="#6a82c6" stroke-width="1.5"/>
<line x1="374.30" y1="240.72" x2="380.70" y2="240.72" stroke="#6a82c6" stroke-width="1.5"/>
<line x1="418.50" y1="249.58" x2="418.50" y2="237.34" stroke="#6a82c6" stroke-width="1.5"/>
<line x1="415.30" y1="237.34" x2="421.70" y2="237.34" stroke="#6a82c6" stroke-width="1.5"/>
<line x1="480.00" y1="268.99" x2="480.00" y2="266.88" stroke="#6a82c6" stroke-width="1.5"/>
<line x1="476.80" y1="266.88" x2="483.20" y2="266.88" stroke="#6a82c6" stroke-width="1.5"/>
<polyline points="316.25,288.83 336.25,284.61 357.00,263.93 377.50,252.96 418.50,249.58 480.00,268.99" fill="none" stroke="#6a82c6" stroke-width="2.4" stroke-linejoin="round"/>
<circle cx="316.25" cy="288.83" r="2.5" fill="#6a82c6"/>
<circle cx="336.25" cy="284.61" r="2.5" fill="#6a82c6"/>
<circle cx="357" cy="263.93" r="2.5" fill="#6a82c6"/>
<circle cx="377.5" cy="252.96" r="2.5" fill="#6a82c6"/>
<circle cx="418.5" cy="249.58" r="2.5" fill="#6a82c6"/>
<circle cx="480" cy="268.99" r="2.5" fill="#6a82c6"/>
<line x1="336.25" y1="272.37" x2="336.25" y2="264.77" stroke="#d4462c" stroke-width="1.5"/>
<line x1="333.05" y1="264.77" x2="339.45" y2="264.77" stroke="#d4462c" stroke-width="1.5"/>
<line x1="357.00" y1="251.27" x2="357.00" y2="238.61" stroke="#d4462c" stroke-width="1.5"/>
<line x1="353.80" y1="238.61" x2="360.20" y2="238.61" stroke="#d4462c" stroke-width="1.5"/>
<line x1="377.50" y1="233.12" x2="377.50" y2="215.82" stroke="#d4462c" stroke-width="1.5"/>
<line x1="374.30" y1="215.82" x2="380.70" y2="215.82" stroke="#d4462c" stroke-width="1.5"/>
<line x1="418.50" y1="225.11" x2="418.50" y2="205.69" stroke="#d4462c" stroke-width="1.5"/>
<line x1="415.30" y1="205.69" x2="421.70" y2="205.69" stroke="#d4462c" stroke-width="1.5"/>
<line x1="480.00" y1="260.13" x2="480.00" y2="251.69" stroke="#d4462c" stroke-width="1.5"/>
<line x1="476.80" y1="251.69" x2="483.20" y2="251.69" stroke="#d4462c" stroke-width="1.5"/>
<polyline points="316.25,287.56 336.25,272.37 357.00,251.27 377.50,233.12 418.50,225.11 480.00,260.13" fill="none" stroke="#d4462c" stroke-width="2.4" stroke-linejoin="round"/>
<rect x="313.75" y="285.06" width="5.00" height="5.00" fill="#d4462c"/>
<rect x="333.75" y="269.87" width="5.00" height="5.00" fill="#d4462c"/>
<rect x="354.50" y="248.77" width="5.00" height="5.00" fill="#d4462c"/>
<rect x="375.00" y="230.62" width="5.00" height="5.00" fill="#d4462c"/>
<rect x="416.00" y="222.61" width="5.00" height="5.00" fill="#d4462c"/>
<rect x="477.50" y="257.63" width="5.00" height="5.00" fill="#d4462c"/>
<line x1="364.50" y1="209.60" x2="387.70" y2="209.60" stroke="#000" stroke-width="1.6"/>
<line x1="364.50" y1="204.40" x2="364.50" y2="214.80" stroke="#000" stroke-width="1.6"/>
<line x1="387.70" y1="204.40" x2="387.70" y2="214.80" stroke="#000" stroke-width="1.6"/>
<text x="376.10" y="209.68" font-size="10" text-anchor="middle" fill="#000" font-weight="bold">*</text>
<line x1="407.10" y1="196.60" x2="430.20" y2="196.60" stroke="#000" stroke-width="1.6"/>
<line x1="407.10" y1="191.40" x2="407.10" y2="201.80" stroke="#000" stroke-width="1.6"/>
<line x1="430.20" y1="191.40" x2="430.20" y2="201.80" stroke="#000" stroke-width="1.6"/>
<text x="418.65" y="196.08" font-size="10" text-anchor="middle" fill="#000" font-weight="bold">*</text>
<rect x="461.00" y="184.80" width="9.80" height="5.40" fill="#5060b0" stroke="#1a1a40" stroke-width="1"/>
<rect x="461.00" y="197.70" width="9.80" height="5.40" fill="#c01d26" stroke="#3a0808" stroke-width="1.3"/>
<text x="474.50" y="190.36" font-size="8" text-anchor="start" fill="#000" font-weight="bold">No IL-2</text>
<text x="474.50" y="203.06" font-size="8" text-anchor="start" fill="#000" font-weight="bold">+ IL-2</text>
<text x="5.0" y="339.5" font-size="15" font-weight="bold" style="stroke-width:0.5px">D</text>
<line x1="36.30" y1="340.80" x2="36.30" y2="442.50" stroke="#000" stroke-width="1.5"/>
<line x1="33.50" y1="442.00" x2="165.50" y2="442.00" stroke="#000" stroke-width="1.5"/>
<line x1="32.50" y1="441.60" x2="36.30" y2="441.60" stroke="#000" stroke-width="1.1"/>
<text x="32.30" y="444.46" font-size="8" text-anchor="end" fill="#000" font-weight="bold">0</text>
<line x1="32.50" y1="416.48" x2="36.30" y2="416.48" stroke="#000" stroke-width="1.1"/>
<text x="32.30" y="419.34" font-size="8" text-anchor="end" fill="#000" font-weight="bold">20</text>
<line x1="32.50" y1="391.36" x2="36.30" y2="391.36" stroke="#000" stroke-width="1.1"/>
<text x="32.30" y="394.22" font-size="8" text-anchor="end" fill="#000" font-weight="bold">40</text>
<line x1="32.50" y1="366.24" x2="36.30" y2="366.24" stroke="#000" stroke-width="1.1"/>
<text x="32.30" y="369.10" font-size="8" text-anchor="end" fill="#000" font-weight="bold">60</text>
<line x1="32.50" y1="341.12" x2="36.30" y2="341.12" stroke="#000" stroke-width="1.1"/>
<text x="32.30" y="343.98" font-size="8" text-anchor="end" fill="#000" font-weight="bold">80</text>
<line x1="49.50" y1="441.80" x2="49.50" y2="445.00" stroke="#000" stroke-width="1.1"/>
<text x="49.50" y="454.06" font-size="8" text-anchor="middle" fill="#000" font-weight="bold">0</text>
<line x1="75.00" y1="441.80" x2="75.00" y2="445.00" stroke="#000" stroke-width="1.1"/>
<text x="75.00" y="454.06" font-size="8" text-anchor="middle" fill="#000" font-weight="bold">5</text>
<line x1="101.00" y1="441.80" x2="101.00" y2="445.00" stroke="#000" stroke-width="1.1"/>
<text x="101.00" y="454.06" font-size="8" text-anchor="middle" fill="#000" font-weight="bold">10</text>
<line x1="127.25" y1="441.80" x2="127.25" y2="445.00" stroke="#000" stroke-width="1.1"/>
<text x="127.25" y="454.06" font-size="8" text-anchor="middle" fill="#000" font-weight="bold">20</text>
<line x1="153.30" y1="441.80" x2="153.30" y2="445.00" stroke="#000" stroke-width="1.1"/>
<text x="153.30" y="454.06" font-size="8" text-anchor="middle" fill="#000" font-weight="bold">50</text>
<rect x="66.40" y="435.75" width="7.60" height="6.05" fill="#5560b0" stroke="#0a0a0a" stroke-width="1.8"/>
<line x1="79.80" y1="431.25" x2="79.80" y2="428.00" stroke="#000" stroke-width="1.6"/>
<line x1="77.10" y1="428.00" x2="82.50" y2="428.00" stroke="#000" stroke-width="1.8"/>
<rect x="76.00" y="431.25" width="7.60" height="10.55" fill="#d03434" stroke="#0a0a0a" stroke-width="1.8"/>
<line x1="96.20" y1="432.50" x2="96.20" y2="430.75" stroke="#000" stroke-width="1.6"/>
<line x1="93.50" y1="430.75" x2="98.90" y2="430.75" stroke="#000" stroke-width="1.8"/>
<rect x="92.40" y="432.50" width="7.60" height="9.30" fill="#5560b0" stroke="#0a0a0a" stroke-width="1.8"/>
<line x1="105.80" y1="426.25" x2="105.80" y2="422.50" stroke="#000" stroke-width="1.6"/>
<line x1="103.10" y1="422.50" x2="108.50" y2="422.50" stroke="#000" stroke-width="1.8"/>
<rect x="102.00" y="426.25" width="7.60" height="15.55" fill="#d03434" stroke="#0a0a0a" stroke-width="1.8"/>
<line x1="122.45" y1="427.50" x2="122.45" y2="423.00" stroke="#000" stroke-width="1.6"/>
<line x1="119.75" y1="423.00" x2="125.15" y2="423.00" stroke="#000" stroke-width="1.8"/>
<rect x="118.65" y="427.50" width="7.60" height="14.30" fill="#5560b0" stroke="#0a0a0a" stroke-width="1.8"/>
<line x1="132.05" y1="414.50" x2="132.05" y2="403.75" stroke="#000" stroke-width="1.6"/>
<line x1="129.35" y1="403.75" x2="134.75" y2="403.75" stroke="#000" stroke-width="1.8"/>
<rect x="128.25" y="414.50" width="7.60" height="27.30" fill="#d03434" stroke="#0a0a0a" stroke-width="1.8"/>
<line x1="148.50" y1="405.00" x2="148.50" y2="396.25" stroke="#000" stroke-width="1.6"/>
<line x1="145.80" y1="396.25" x2="151.20" y2="396.25" stroke="#000" stroke-width="1.8"/>
<rect x="144.70" y="405.00" width="7.60" height="36.80" fill="#5560b0" stroke="#0a0a0a" stroke-width="1.8"/>
<line x1="158.10" y1="368.25" x2="158.10" y2="341.75" stroke="#000" stroke-width="1.6"/>
<line x1="155.40" y1="341.75" x2="160.80" y2="341.75" stroke="#000" stroke-width="1.8"/>
<rect x="154.30" y="368.25" width="7.60" height="73.55" fill="#d03434" stroke="#0a0a0a" stroke-width="1.8"/>
<text x="96.00" y="345.78" font-size="10" text-anchor="middle" fill="#000" font-weight="bold">IgM</text>
<rect x="41.30" y="359.50" width="10.70" height="5.60" fill="#46509e" stroke="#15153a" stroke-width="1.3"/>
<rect x="41.30" y="371.30" width="10.70" height="5.70" fill="#c01d26" stroke="#3a0808" stroke-width="1.3"/>
<text x="56.00" y="365.16" font-size="8" text-anchor="start" fill="#000" font-weight="bold">No IL-2</text>
<text x="56.00" y="377.26" font-size="8" text-anchor="start" fill="#000" font-weight="bold">+ IL-2</text>
<text x="99.40" y="466.40" font-size="9.5" text-anchor="middle" fill="#000" font-weight="bold">Concentration of IL-21</text>
<text x="105.60" y="475.40" font-size="9.5" text-anchor="middle" fill="#000" font-weight="bold">(ng/ml)</text>
<text x="10.40" y="397.00" dy="3.58" font-size="10" text-anchor="middle" fill="#000" font-weight="bold" transform="rotate(-90 10.40 397.00)">Ig secretion (µg/ml)</text>
<line x1="188.80" y1="341.80" x2="188.80" y2="441.60" stroke="#000" stroke-width="1.5"/>
<line x1="185.50" y1="440.90" x2="318.20" y2="440.90" stroke="#000" stroke-width="1.5"/>
<line x1="185.00" y1="440.90" x2="188.80" y2="440.90" stroke="#000" stroke-width="1.2"/>
<text x="185.80" y="440.76" font-size="8" text-anchor="end" fill="#000" font-weight="bold">0</text>
<line x1="185.00" y1="416.20" x2="188.80" y2="416.20" stroke="#000" stroke-width="1.2"/>
<text x="185.80" y="419.06" font-size="8" text-anchor="end" fill="#000" font-weight="bold">0.25</text>
<line x1="185.00" y1="391.50" x2="188.80" y2="391.50" stroke="#000" stroke-width="1.2"/>
<text x="185.80" y="394.36" font-size="8" text-anchor="end" fill="#000" font-weight="bold">0.5</text>
<line x1="185.00" y1="366.80" x2="188.80" y2="366.80" stroke="#000" stroke-width="1.2"/>
<text x="185.80" y="369.66" font-size="8" text-anchor="end" fill="#000" font-weight="bold">0.75</text>
<line x1="185.00" y1="342.10" x2="188.80" y2="342.10" stroke="#000" stroke-width="1.2"/>
<text x="185.80" y="344.96" font-size="8" text-anchor="end" fill="#000" font-weight="bold">1.0</text>
<line x1="203.00" y1="440.90" x2="203.00" y2="444.00" stroke="#000" stroke-width="1.1"/>
<text x="203.00" y="455.16" font-size="8" text-anchor="middle" fill="#000" font-weight="bold">0</text>
<line x1="228.25" y1="440.90" x2="228.25" y2="444.00" stroke="#000" stroke-width="1.1"/>
<text x="228.25" y="455.16" font-size="8" text-anchor="middle" fill="#000" font-weight="bold">5</text>
<line x1="253.50" y1="440.90" x2="253.50" y2="444.00" stroke="#000" stroke-width="1.1"/>
<text x="253.50" y="455.16" font-size="8" text-anchor="middle" fill="#000" font-weight="bold">10</text>
<line x1="279.25" y1="440.90" x2="279.25" y2="444.00" stroke="#000" stroke-width="1.1"/>
<text x="279.25" y="455.16" font-size="8" text-anchor="middle" fill="#000" font-weight="bold">20</text>
<line x1="304.80" y1="440.90" x2="304.80" y2="444.00" stroke="#000" stroke-width="1.1"/>
<text x="304.80" y="455.16" font-size="8" text-anchor="middle" fill="#000" font-weight="bold">50</text>
<rect x="219.65" y="439.25" width="7.60" height="1.65" fill="#5560b0" stroke="#0a0a0a" stroke-width="1.8"/>
<line x1="233.05" y1="434.50" x2="233.05" y2="432.00" stroke="#000" stroke-width="1.6"/>
<line x1="230.35" y1="432.00" x2="235.75" y2="432.00" stroke="#000" stroke-width="1.8"/>
<rect x="229.25" y="434.50" width="7.60" height="6.40" fill="#d03434" stroke="#0a0a0a" stroke-width="1.8"/>
<rect x="244.90" y="435.00" width="7.60" height="5.90" fill="#5560b0" stroke="#0a0a0a" stroke-width="1.8"/>
<line x1="258.30" y1="423.00" x2="258.30" y2="419.25" stroke="#000" stroke-width="1.6"/>
<line x1="255.60" y1="419.25" x2="261.00" y2="419.25" stroke="#000" stroke-width="1.8"/>
<rect x="254.50" y="423.00" width="7.60" height="17.90" fill="#d03434" stroke="#0a0a0a" stroke-width="1.8"/>
<line x1="274.45" y1="425.00" x2="274.45" y2="421.25" stroke="#000" stroke-width="1.6"/>
<line x1="271.75" y1="421.25" x2="277.15" y2="421.25" stroke="#000" stroke-width="1.8"/>
<rect x="270.65" y="425.00" width="7.60" height="15.90" fill="#5560b0" stroke="#0a0a0a" stroke-width="1.8"/>
<line x1="284.05" y1="395.00" x2="284.05" y2="380.75" stroke="#000" stroke-width="1.6"/>
<line x1="281.35" y1="380.75" x2="286.75" y2="380.75" stroke="#000" stroke-width="1.8"/>
<rect x="280.25" y="395.00" width="7.60" height="45.90" fill="#d03434" stroke="#0a0a0a" stroke-width="1.8"/>
<line x1="300.00" y1="413.00" x2="300.00" y2="409.00" stroke="#000" stroke-width="1.6"/>
<line x1="297.30" y1="409.00" x2="302.70" y2="409.00" stroke="#000" stroke-width="1.8"/>
<rect x="296.20" y="413.00" width="7.60" height="27.90" fill="#5560b0" stroke="#0a0a0a" stroke-width="1.8"/>
<line x1="309.60" y1="362.50" x2="309.60" y2="343.75" stroke="#000" stroke-width="1.6"/>
<line x1="306.90" y1="343.75" x2="312.30" y2="343.75" stroke="#000" stroke-width="1.8"/>
<rect x="305.80" y="362.50" width="7.60" height="78.40" fill="#d03434" stroke="#0a0a0a" stroke-width="1.8"/>
<text x="249.20" y="345.78" font-size="10" text-anchor="middle" fill="#000" font-weight="bold">IgG</text>
<rect x="196.30" y="359.20" width="10.00" height="5.60" fill="#46509e" stroke="#15153a" stroke-width="1.3"/>
<rect x="196.30" y="371.90" width="10.00" height="5.60" fill="#c01d26" stroke="#3a0808" stroke-width="1.3"/>
<text x="211.60" y="364.86" font-size="8" text-anchor="start" fill="#000" font-weight="bold">No IL-2</text>
<text x="211.60" y="378.06" font-size="8" text-anchor="start" fill="#000" font-weight="bold">+ IL-2</text>
<text x="255.60" y="465.40" font-size="9.5" text-anchor="middle" fill="#000" font-weight="bold">Concentration of IL-21</text>
<text x="262.50" y="476.40" font-size="9.5" text-anchor="middle" fill="#000" font-weight="bold">(ng/ml)</text>
<text x="341.5" y="338.7" font-size="15" font-weight="bold" style="stroke-width:0.5px">E</text>
<line x1="378.70" y1="345.00" x2="378.70" y2="441.00" stroke="#000" stroke-width="1.5"/>
<line x1="375.50" y1="440.30" x2="475.40" y2="440.30" stroke="#000" stroke-width="1.5"/>
<line x1="375.00" y1="440.30" x2="378.70" y2="440.30" stroke="#000" stroke-width="1.2"/>
<text x="373.80" y="441.76" font-size="8" text-anchor="end" fill="#000" font-weight="bold">0</text>
<line x1="375.00" y1="416.70" x2="378.70" y2="416.70" stroke="#000" stroke-width="1.2"/>
<text x="373.80" y="419.56" font-size="8" text-anchor="end" fill="#000" font-weight="bold">0.4</text>
<line x1="375.00" y1="393.10" x2="378.70" y2="393.10" stroke="#000" stroke-width="1.2"/>
<text x="373.80" y="395.96" font-size="8" text-anchor="end" fill="#000" font-weight="bold">0.8</text>
<line x1="375.00" y1="369.50" x2="378.70" y2="369.50" stroke="#000" stroke-width="1.2"/>
<text x="373.80" y="372.36" font-size="8" text-anchor="end" fill="#000" font-weight="bold">1.2</text>
<line x1="375.00" y1="345.90" x2="378.70" y2="345.90" stroke="#000" stroke-width="1.2"/>
<text x="373.80" y="348.76" font-size="8" text-anchor="end" fill="#000" font-weight="bold">1.6</text>
<line x1="402.90" y1="440.30" x2="402.90" y2="444.00" stroke="#000" stroke-width="1.3"/>
<line x1="452.00" y1="440.30" x2="452.00" y2="444.00" stroke="#000" stroke-width="1.3"/>
<rect x="386.60" y="432.30" width="32.40" height="8.00" fill="#79b441" stroke="#111" stroke-width="1.3"/>
<rect x="386.60" y="418.10" width="32.40" height="14.20" fill="#f6e24a" stroke="#111" stroke-width="1.3"/>
<rect x="386.60" y="398.50" width="32.40" height="19.60" fill="#cd2a12" stroke="#111" stroke-width="1.3"/>
<rect x="435.20" y="404.20" width="32.00" height="36.10" fill="#79b441" stroke="#111" stroke-width="1.3"/>
<rect x="435.20" y="384.70" width="32.00" height="19.50" fill="#f6e24a" stroke="#111" stroke-width="1.3"/>
<rect x="435.20" y="349.80" width="32.00" height="34.90" fill="#cd2a12" stroke="#111" stroke-width="1.3"/>
<line x1="402.80" y1="397.00" x2="402.80" y2="398.50" stroke="#000" stroke-width="1.4"/>
<line x1="394.80" y1="397.00" x2="410.80" y2="397.00" stroke="#000" stroke-width="1.8"/>
<line x1="402.80" y1="413.90" x2="402.80" y2="418.10" stroke="#000" stroke-width="1.4"/>
<line x1="394.80" y1="413.90" x2="410.80" y2="413.90" stroke="#000" stroke-width="1.8"/>
<line x1="402.80" y1="429.10" x2="402.80" y2="432.30" stroke="#000" stroke-width="1.4"/>
<line x1="394.80" y1="429.10" x2="410.80" y2="429.10" stroke="#000" stroke-width="1.8"/>
<line x1="451.60" y1="344.50" x2="451.60" y2="349.80" stroke="#000" stroke-width="1.4"/>
<line x1="443.60" y1="344.50" x2="459.60" y2="344.50" stroke="#000" stroke-width="1.8"/>
<line x1="451.60" y1="378.00" x2="451.60" y2="384.70" stroke="#000" stroke-width="1.4"/>
<line x1="443.60" y1="378.00" x2="459.60" y2="378.00" stroke="#000" stroke-width="1.8"/>
<line x1="451.60" y1="394.20" x2="451.60" y2="404.20" stroke="#000" stroke-width="1.4"/>
<line x1="443.60" y1="394.20" x2="459.60" y2="394.20" stroke="#000" stroke-width="1.8"/>
<rect x="483.50" y="358.50" width="9.20" height="5.60" fill="#79b441" stroke="#222" stroke-width="0.8"/>
<text x="495.50" y="364.16" font-size="8" text-anchor="start" fill="#000" font-weight="bold">IgG1</text>
<rect x="483.50" y="370.90" width="9.20" height="5.60" fill="#f6e24a" stroke="#222" stroke-width="0.8"/>
<text x="495.50" y="376.56" font-size="8" text-anchor="start" fill="#000" font-weight="bold">IgG2</text>
<rect x="483.50" y="382.40" width="9.20" height="5.60" fill="#cd2a12" stroke="#222" stroke-width="0.8"/>
<text x="495.50" y="388.06" font-size="8" text-anchor="start" fill="#000" font-weight="bold">IgG3</text>
<rect x="483.50" y="394.00" width="9.20" height="5.60" fill="#5060b0" stroke="#222" stroke-width="0.8"/>
<text x="495.50" y="399.66" font-size="8" text-anchor="start" fill="#000" font-weight="bold">IgG4</text>
<text x="403.30" y="454.36" font-size="8" text-anchor="middle" fill="#000" font-weight="bold">No IL-2</text>
<text x="450.00" y="454.36" font-size="8" text-anchor="middle" fill="#000" font-weight="bold">+ IL-2</text>
<text x="424.00" y="467.38" font-size="10" text-anchor="middle" fill="#000" font-weight="bold">Culture Conditions</text>
<text x="348.60" y="393.30" dy="3.58" font-size="10" text-anchor="middle" fill="#000" font-weight="bold" transform="rotate(-90 348.60 393.30)">IgG secretion (µg/ml)</text>
<text x="5.2" y="495.9" font-size="15" font-weight="bold" style="stroke-width:0.5px">F</text>
<line x1="36.00" y1="511.80" x2="36.00" y2="592.50" stroke="#000" stroke-width="1.5"/>
<line x1="32.20" y1="591.80" x2="136.00" y2="591.80" stroke="#000" stroke-width="1.5"/>
<line x1="32.20" y1="591.80" x2="36.00" y2="591.80" stroke="#000" stroke-width="1.2"/>
<text x="31.50" y="594.66" font-size="8" text-anchor="end" fill="#000" font-weight="bold">0</text>
<line x1="32.20" y1="575.80" x2="36.00" y2="575.80" stroke="#000" stroke-width="1.2"/>
<text x="31.50" y="578.66" font-size="8" text-anchor="end" fill="#000" font-weight="bold">10</text>
<line x1="32.20" y1="559.80" x2="36.00" y2="559.80" stroke="#000" stroke-width="1.2"/>
<text x="31.50" y="562.66" font-size="8" text-anchor="end" fill="#000" font-weight="bold">20</text>
<line x1="32.20" y1="543.80" x2="36.00" y2="543.80" stroke="#000" stroke-width="1.2"/>
<text x="31.50" y="546.66" font-size="8" text-anchor="end" fill="#000" font-weight="bold">30</text>
<line x1="32.20" y1="527.80" x2="36.00" y2="527.80" stroke="#000" stroke-width="1.2"/>
<text x="31.50" y="530.66" font-size="8" text-anchor="end" fill="#000" font-weight="bold">40</text>
<line x1="32.20" y1="511.80" x2="36.00" y2="511.80" stroke="#000" stroke-width="1.2"/>
<text x="31.50" y="514.66" font-size="8" text-anchor="end" fill="#000" font-weight="bold">50</text>
<line x1="62.80" y1="591.80" x2="62.80" y2="595.30" stroke="#000" stroke-width="1.1"/>
<line x1="117.50" y1="591.80" x2="117.50" y2="595.30" stroke="#000" stroke-width="1.1"/>
<text x="90.60" y="498.38" font-size="10" text-anchor="middle" fill="#000" font-weight="bold">Naive IgM</text>
<rect x="45.10" y="582.50" width="14.50" height="9.30" fill="#5a66b4" stroke="#1a1a1a" stroke-width="1.2"/>
<line x1="73.25" y1="560.75" x2="73.25" y2="558.75" stroke="#000" stroke-width="1.3"/>
<line x1="69.65" y1="558.75" x2="76.85" y2="558.75" stroke="#000" stroke-width="1.5"/>
<rect x="66.00" y="560.75" width="14.50" height="31.05" fill="#d6434b" stroke="#1a1a1a" stroke-width="1.2"/>
<rect x="97.10" y="530.20" width="14.50" height="61.60" fill="#5a66b4" stroke="#1a1a1a" stroke-width="1.2"/>
<rect x="118.00" y="550.30" width="14.50" height="41.50" fill="#d6434b" stroke="#1a1a1a" stroke-width="1.2"/>
<rect x="40.00" y="508.80" width="11.30" height="5.00" fill="#46509e" stroke="#15153a" stroke-width="1.3"/>
<rect x="40.00" y="520.80" width="11.30" height="5.40" fill="#c01d26" stroke="#3a0808" stroke-width="1.3"/>
<text x="54.50" y="514.26" font-size="8" text-anchor="start" fill="#000" font-weight="bold">No IL-2</text>
<text x="54.50" y="526.66" font-size="8" text-anchor="start" fill="#000" font-weight="bold">+ IL-2</text>
<text x="10.20" y="550.20" dy="3.58" font-size="10" text-anchor="middle" fill="#000" font-weight="bold" transform="rotate(-90 10.20 550.20)">Ig secretion (µg/ml)</text>
<line x1="159.30" y1="510.80" x2="159.30" y2="592.40" stroke="#000" stroke-width="1.5"/>
<line x1="155.50" y1="591.70" x2="260.00" y2="591.70" stroke="#000" stroke-width="1.5"/>
<line x1="155.50" y1="591.70" x2="159.30" y2="591.70" stroke="#000" stroke-width="1.2"/>
<text x="155.40" y="594.56" font-size="8" text-anchor="end" fill="#000" font-weight="bold">0</text>
<line x1="155.50" y1="571.48" x2="159.30" y2="571.48" stroke="#000" stroke-width="1.2"/>
<text x="155.40" y="574.34" font-size="8" text-anchor="end" fill="#000" font-weight="bold">0.05</text>
<line x1="155.50" y1="551.26" x2="159.30" y2="551.26" stroke="#000" stroke-width="1.2"/>
<text x="155.40" y="554.12" font-size="8" text-anchor="end" fill="#000" font-weight="bold">0.1</text>
<line x1="155.50" y1="531.04" x2="159.30" y2="531.04" stroke="#000" stroke-width="1.2"/>
<text x="155.40" y="533.90" font-size="8" text-anchor="end" fill="#000" font-weight="bold">0.15</text>
<line x1="155.50" y1="510.82" x2="159.30" y2="510.82" stroke="#000" stroke-width="1.2"/>
<text x="155.40" y="513.68" font-size="8" text-anchor="end" fill="#000" font-weight="bold">0.2</text>
<line x1="186.90" y1="591.70" x2="186.90" y2="595.20" stroke="#000" stroke-width="1.1"/>
<line x1="239.40" y1="591.70" x2="239.40" y2="595.20" stroke="#000" stroke-width="1.1"/>
<text x="217.00" y="498.38" font-size="10" text-anchor="middle" fill="#000" font-weight="bold">Naive IgG</text>
<line x1="176.45" y1="568.30" x2="176.45" y2="559.40" stroke="#000" stroke-width="1.3"/>
<line x1="172.85" y1="559.40" x2="180.05" y2="559.40" stroke="#000" stroke-width="1.5"/>
<rect x="169.20" y="568.30" width="14.50" height="23.40" fill="#5a66b4" stroke="#1a1a1a" stroke-width="1.2"/>
<line x1="197.35" y1="549.50" x2="197.35" y2="541.00" stroke="#000" stroke-width="1.3"/>
<line x1="193.75" y1="541.00" x2="200.95" y2="541.00" stroke="#000" stroke-width="1.5"/>
<rect x="190.10" y="549.50" width="14.50" height="42.20" fill="#d6434b" stroke="#1a1a1a" stroke-width="1.2"/>
<rect x="221.70" y="526.20" width="14.50" height="65.50" fill="#5a66b4" stroke="#1a1a1a" stroke-width="1.2"/>
<rect x="242.60" y="537.50" width="14.50" height="54.20" fill="#d6434b" stroke="#1a1a1a" stroke-width="1.2"/>
<line x1="282.20" y1="510.80" x2="282.20" y2="592.50" stroke="#000" stroke-width="1.5"/>
<line x1="278.40" y1="591.80" x2="385.00" y2="591.80" stroke="#000" stroke-width="1.5"/>
<line x1="278.40" y1="591.80" x2="282.20" y2="591.80" stroke="#000" stroke-width="1.2"/>
<text x="277.80" y="594.66" font-size="8" text-anchor="end" fill="#000" font-weight="bold">0</text>
<line x1="278.40" y1="575.55" x2="282.20" y2="575.55" stroke="#000" stroke-width="1.2"/>
<text x="277.80" y="578.41" font-size="8" text-anchor="end" fill="#000" font-weight="bold">20</text>
<line x1="278.40" y1="559.30" x2="282.20" y2="559.30" stroke="#000" stroke-width="1.2"/>
<text x="277.80" y="562.16" font-size="8" text-anchor="end" fill="#000" font-weight="bold">40</text>
<line x1="278.40" y1="543.05" x2="282.20" y2="543.05" stroke="#000" stroke-width="1.2"/>
<text x="277.80" y="545.91" font-size="8" text-anchor="end" fill="#000" font-weight="bold">60</text>
<line x1="278.40" y1="526.80" x2="282.20" y2="526.80" stroke="#000" stroke-width="1.2"/>
<text x="277.80" y="529.66" font-size="8" text-anchor="end" fill="#000" font-weight="bold">80</text>
<line x1="278.40" y1="510.55" x2="282.20" y2="510.55" stroke="#000" stroke-width="1.2"/>
<text x="277.80" y="513.41" font-size="8" text-anchor="end" fill="#000" font-weight="bold">100</text>
<line x1="310.50" y1="591.80" x2="310.50" y2="595.30" stroke="#000" stroke-width="1.1"/>
<line x1="363.80" y1="591.80" x2="363.80" y2="595.30" stroke="#000" stroke-width="1.1"/>
<text x="338.80" y="498.38" font-size="10" text-anchor="middle" fill="#000" font-weight="bold">Memory IgM</text>
<line x1="300.05" y1="562.50" x2="300.05" y2="550.80" stroke="#000" stroke-width="1.3"/>
<line x1="296.45" y1="550.80" x2="303.65" y2="550.80" stroke="#000" stroke-width="1.5"/>
<rect x="292.80" y="562.50" width="14.50" height="29.30" fill="#5a66b4" stroke="#1a1a1a" stroke-width="1.2"/>
<line x1="320.95" y1="520.90" x2="320.95" y2="517.50" stroke="#000" stroke-width="1.3"/>
<line x1="317.35" y1="517.50" x2="324.55" y2="517.50" stroke="#000" stroke-width="1.5"/>
<rect x="313.70" y="520.90" width="14.50" height="70.90" fill="#d6434b" stroke="#1a1a1a" stroke-width="1.2"/>
<rect x="346.10" y="580.00" width="14.50" height="11.80" fill="#5a66b4" stroke="#1a1a1a" stroke-width="1.2"/>
<rect x="367.00" y="584.00" width="14.50" height="7.80" fill="#d6434b" stroke="#1a1a1a" stroke-width="1.2"/>
<line x1="408.10" y1="510.20" x2="408.10" y2="592.90" stroke="#000" stroke-width="1.5"/>
<line x1="404.30" y1="592.20" x2="516.00" y2="592.20" stroke="#000" stroke-width="1.5"/>
<line x1="404.30" y1="591.60" x2="408.10" y2="591.60" stroke="#000" stroke-width="1.2"/>
<text x="404.80" y="594.46" font-size="8" text-anchor="end" fill="#000" font-weight="bold">0</text>
<line x1="404.30" y1="575.60" x2="408.10" y2="575.60" stroke="#000" stroke-width="1.2"/>
<text x="404.80" y="578.46" font-size="8" text-anchor="end" fill="#000" font-weight="bold">10</text>
<line x1="404.30" y1="559.60" x2="408.10" y2="559.60" stroke="#000" stroke-width="1.2"/>
<text x="404.80" y="562.46" font-size="8" text-anchor="end" fill="#000" font-weight="bold">20</text>
<line x1="404.30" y1="543.60" x2="408.10" y2="543.60" stroke="#000" stroke-width="1.2"/>
<text x="404.80" y="546.46" font-size="8" text-anchor="end" fill="#000" font-weight="bold">30</text>
<line x1="404.30" y1="527.60" x2="408.10" y2="527.60" stroke="#000" stroke-width="1.2"/>
<text x="404.80" y="530.46" font-size="8" text-anchor="end" fill="#000" font-weight="bold">40</text>
<line x1="404.30" y1="511.60" x2="408.10" y2="511.60" stroke="#000" stroke-width="1.2"/>
<text x="404.80" y="514.46" font-size="8" text-anchor="end" fill="#000" font-weight="bold">50</text>
<line x1="435.20" y1="592.20" x2="435.20" y2="595.70" stroke="#000" stroke-width="1.1"/>
<line x1="494.00" y1="592.20" x2="494.00" y2="595.70" stroke="#000" stroke-width="1.1"/>
<text x="466.30" y="498.38" font-size="10" text-anchor="middle" fill="#000" font-weight="bold">Memory IgG</text>
<line x1="424.75" y1="553.30" x2="424.75" y2="542.90" stroke="#000" stroke-width="1.3"/>
<line x1="421.15" y1="542.90" x2="428.35" y2="542.90" stroke="#000" stroke-width="1.5"/>
<rect x="417.50" y="553.30" width="14.50" height="38.90" fill="#5a66b4" stroke="#1a1a1a" stroke-width="1.2"/>
<line x1="445.65" y1="522.30" x2="445.65" y2="515.50" stroke="#000" stroke-width="1.3"/>
<line x1="442.05" y1="515.50" x2="449.25" y2="515.50" stroke="#000" stroke-width="1.5"/>
<rect x="438.40" y="522.30" width="14.50" height="69.90" fill="#d6434b" stroke="#1a1a1a" stroke-width="1.2"/>
<rect x="476.30" y="586.90" width="14.50" height="5.30" fill="#5a66b4" stroke="#1a1a1a" stroke-width="1.2"/>
<rect x="497.20" y="586.90" width="14.50" height="5.30" fill="#d6434b" stroke="#1a1a1a" stroke-width="1.2"/>
<rect x="479.00" y="514.50" width="9.50" height="5.90" fill="#46509e" stroke="#15153a" stroke-width="1.3"/>
<rect x="479.00" y="527.00" width="9.50" height="5.50" fill="#c01d26" stroke="#3a0808" stroke-width="1.3"/>
<text x="491.70" y="520.16" font-size="8" text-anchor="start" fill="#000" font-weight="bold">No IL-2</text>
<text x="491.70" y="532.66" font-size="8" text-anchor="start" fill="#000" font-weight="bold">+ IL-2</text>
<text x="64.40" y="604.38" font-size="10" text-anchor="middle" fill="#000" font-weight="bold">Normal</text>
<text x="186.10" y="603.88" font-size="10" text-anchor="middle" fill="#000" font-weight="bold">Normal</text>
<text x="310.70" y="603.88" font-size="10" text-anchor="middle" fill="#000" font-weight="bold">Normal</text>
<text x="440.20" y="605.88" font-size="10" text-anchor="middle" fill="#000" font-weight="bold">Normal</text>
<text x="115.50" y="604.38" font-size="10" text-anchor="middle" fill="#000" font-weight="bold">CD25-</text>
<text x="115.50" y="616.38" font-size="10" text-anchor="middle" fill="#000" font-weight="bold">deficient</text>
<text x="239.50" y="604.08" font-size="10" text-anchor="middle" fill="#000" font-weight="bold">CD25-</text>
<text x="239.50" y="616.58" font-size="10" text-anchor="middle" fill="#000" font-weight="bold">deficient</text>
<text x="366.00" y="604.08" font-size="10" text-anchor="middle" fill="#000" font-weight="bold">CD25-</text>
<text x="366.00" y="616.58" font-size="10" text-anchor="middle" fill="#000" font-weight="bold">deficient</text>
<text x="500.50" y="606.08" font-size="10" text-anchor="middle" fill="#000" font-weight="bold">CD25-</text>
<text x="500.50" y="617.58" font-size="10" text-anchor="middle" fill="#000" font-weight="bold">deficient</text>
<text x="0.2" y="632.3" font-size="15" font-weight="bold" style="stroke-width:0.5px">G</text>
<polyline points="25.50,717.60 33.23,717.62 44.58,717.65 57.20,717.68 68.79,717.67 77.00,717.60 81.11,717.48 82.68,717.32 82.78,717.11 82.53,716.84 83.00,716.50 84.18,715.76 85.35,715.72 86.53,714.97 87.74,714.67 89.00,713.96 90.36,712.38 91.80,711.36 93.25,711.38 94.67,709.46 96.00,708.15 97.25,707.77 98.45,705.62 99.59,704.52 100.65,702.34 101.60,700.68 102.42,698.11 103.14,696.74 103.77,694.86 104.35,691.93 104.90,689.31 105.42,685.73 105.88,680.95 106.30,677.60 106.70,673.13 107.10,668.74 107.50,664.40 107.89,661.33 108.26,656.87 108.60,653.79 108.90,651.49 109.14,649.72 109.32,649.15 109.48,648.27 109.66,649.15 109.90,649.53 110.21,651.57 110.56,653.53 110.94,655.03 111.33,657.95 111.70,661.13 112.07,665.61 112.45,668.93 112.82,673.40 113.18,677.07 113.50,681.01 113.75,684.08 113.94,687.02 114.13,690.10 114.36,692.69 114.70,695.53 115.16,697.45 115.72,699.75 116.33,701.49 116.97,703.41 117.60,704.72 118.26,706.04 118.97,709.12 119.68,711.24 120.34,712.57 120.90,712.59 121.36,711.89 121.75,709.27 122.08,707.60 122.36,704.86 122.60,702.72 122.80,701.37 122.95,701.65 123.06,701.31 123.14,699.77 123.20,700.39" fill="none" stroke="#424ca2" stroke-width="2.0" stroke-linejoin="round" stroke-linecap="round"/>
<polyline points="25.50,717.60 33.08,717.62 44.20,717.65 56.58,717.68 67.94,717.67 76.00,717.60 80.05,717.48 81.60,717.33 81.74,717.13 81.51,716.86 82.00,716.50 83.18,715.95 84.33,715.10 85.50,714.70 86.71,714.64 88.00,713.98 89.42,712.01 90.94,711.75 92.49,709.91 94.00,709.58 95.40,707.78 96.70,707.11 97.95,705.77 99.13,703.58 100.22,702.51 101.20,699.75 102.05,697.51 102.79,696.18 103.43,693.25 104.03,690.99 104.60,688.38 105.14,685.21 105.62,680.71 106.07,676.40 106.49,673.28 106.90,668.56 107.30,665.33 107.69,660.98 108.05,656.20 108.39,652.76 108.70,650.23 108.96,648.76 109.16,647.80 109.35,647.51 109.55,647.92 109.80,649.17 110.10,650.05 110.43,652.04 110.78,655.01 111.14,657.32 111.50,660.54 111.86,664.96 112.25,668.41 112.63,672.69 112.98,676.10 113.30,680.29 113.54,683.71 113.70,685.93 113.86,689.43 114.08,691.99 114.40,693.63 114.86,696.53 115.40,698.26 116.01,700.32 116.65,701.60 117.30,703.77 117.99,705.80 118.74,707.11 119.50,709.20 120.21,711.40 120.80,712.10 121.27,709.99 121.66,707.84 121.98,705.04 122.25,701.83 122.50,699.82 122.72,698.56 122.89,697.87 123.02,697.70 123.12,697.01 123.20,696.84" fill="none" stroke="#bf1b2c" stroke-width="2.0" stroke-linejoin="round" stroke-linecap="round"/>
<polyline points="124.50,717.60 131.54,717.64 141.85,717.71 153.35,717.76 163.93,717.74 171.50,717.60 175.45,717.35 177.17,717.03 177.59,716.62 177.63,716.43 178.20,714.78 179.30,714.72 180.32,714.09 181.27,712.54 182.16,711.19 183.00,710.39 183.78,707.70 184.49,705.32 185.16,703.10 185.79,700.83 186.40,697.48 186.99,695.23 187.54,692.66 188.07,690.68 188.58,687.54 189.10,685.46 189.61,681.84 190.12,679.20 190.62,676.82 191.11,674.59 191.60,671.94 192.10,670.10 192.62,668.84 193.12,668.51 193.59,667.34 194.00,667.40 194.36,666.62 194.68,664.96 194.95,664.38 195.19,664.58 195.40,664.18 195.54,664.60 195.60,664.52 195.65,664.96 195.73,665.97 195.90,667.38 196.15,667.31 196.45,667.94 196.81,668.67 197.22,669.57 197.70,670.88 198.25,673.74 198.88,675.70 199.56,678.56 200.27,682.28 201.00,683.49 201.78,683.51 202.63,681.69 203.49,680.59 204.30,678.43 205.00,675.34 205.57,673.69 206.03,671.11 206.45,667.98 206.85,664.85 207.30,661.73 207.78,658.66 208.28,654.98 208.78,651.46 209.28,649.65 209.80,648.22 210.35,649.62 210.93,650.68 211.50,654.74 212.04,657.86 212.50,661.55 212.86,665.10 213.15,669.17 213.40,673.03 213.64,676.50 213.90,681.32 214.16,684.21 214.40,687.96 214.65,691.80 214.94,694.60 215.30,696.89 215.74,699.27 216.25,699.91 216.80,700.29 217.36,700.82 217.90,702.47 218.43,703.21 218.98,705.06 219.52,705.88 220.04,706.70 220.50,707.55 220.90,707.49 221.24,705.59 221.56,705.00 221.87,703.73 222.20,702.40 222.57,701.46 222.96,699.46 223.34,699.41 223.67,698.99 223.90,697.41" fill="none" stroke="#424ca2" stroke-width="2.0" stroke-linejoin="round" stroke-linecap="round"/>
<polyline points="124.50,717.60 131.43,717.64 141.59,717.71 152.91,717.76 163.33,717.74 170.80,717.60 174.71,717.35 176.43,717.03 176.86,716.62 176.92,715.78 177.50,715.10 178.59,714.67 179.59,713.69 180.51,712.76 181.38,711.92 182.20,709.35 182.97,707.45 183.69,705.22 184.35,702.67 184.99,699.96 185.60,698.52 186.18,695.81 186.73,692.25 187.25,690.16 187.77,687.14 188.30,684.16 188.84,680.85 189.38,677.55 189.93,673.71 190.47,669.85 191.00,666.50 191.53,663.96 192.07,661.23 192.60,659.61 193.11,657.96 193.60,656.04 194.04,654.55 194.45,653.93 194.84,653.77 195.25,653.99 195.70,654.47 196.20,654.56 196.74,656.09 197.30,657.15 197.86,658.43 198.40,660.03 198.91,662.29 199.41,665.10 199.91,667.36 200.43,670.06 201.00,671.45 201.64,672.26 202.34,673.37 203.05,673.88 203.75,672.85 204.40,672.50 204.98,670.89 205.53,669.12 206.05,666.40 206.57,662.76 207.10,660.72 207.64,657.63 208.18,653.57 208.72,650.65 209.26,647.84 209.80,647.81 210.36,648.41 210.95,650.83 211.52,653.70 212.05,656.97 212.50,660.50 212.85,663.91 213.12,667.43 213.34,672.37 213.56,675.86 213.80,679.94 214.05,684.34 214.29,686.86 214.54,690.20 214.84,693.25 215.20,696.99 215.64,698.44 216.12,700.26 216.66,703.11 217.26,703.85 217.90,706.45 218.65,708.16 219.50,710.52 220.38,712.58 221.21,713.35 221.90,713.79 222.46,711.33 222.94,709.47 223.34,705.78 223.66,702.94 223.90,700.09" fill="none" stroke="#bf1b2c" stroke-width="2.0" stroke-linejoin="round" stroke-linecap="round"/>
<polyline points="225.20,717.60 230.54,717.64 238.38,717.72 247.10,717.79 255.11,717.77 260.80,717.60 263.67,717.34 264.81,717.04 264.93,716.60 264.79,716.28 265.10,715.56 265.86,713.12 266.59,711.87 267.29,710.36 267.99,708.74 268.70,705.96 269.41,703.72 270.11,701.44 270.81,699.48 271.54,697.29 272.30,694.66 273.14,692.72 274.04,691.02 274.95,689.31 275.82,687.77 276.60,685.66 277.27,684.54 277.86,683.55 278.41,681.18 278.94,679.84 279.50,677.06 280.08,675.40 280.66,672.87 281.24,670.02 281.82,667.10 282.40,664.48 282.99,662.17 283.59,659.96 284.19,656.55 284.76,654.29 285.30,653.32 285.76,652.13 286.17,650.51 286.56,649.59 286.99,649.36 287.50,648.29 288.14,648.15 288.87,647.97 289.63,648.65 290.36,648.84 291.00,649.75 291.50,651.93 291.91,654.35 292.28,655.93 292.69,659.12 293.20,661.49 293.83,664.96 294.54,667.75 295.29,670.63 296.06,673.88 296.80,676.88 297.51,680.72 298.20,683.92 298.90,686.93 299.63,690.32 300.40,693.17 301.22,696.53 302.07,698.44 302.96,702.03 303.87,703.42 304.80,705.03 305.80,705.43 306.86,705.73 307.92,705.17 308.92,704.33 309.80,704.18 310.49,704.89 311.04,705.65 311.54,705.82 312.06,707.13 312.70,708.40 313.45,708.92 314.25,709.99 315.10,711.45 316.02,713.44 317.00,714.53 318.13,715.81 319.40,716.47 320.70,716.67 321.87,717.20 322.80,717.60 323.44,717.81 323.89,717.84 324.20,717.76 324.42,717.65 324.60,717.60" fill="none" stroke="#bf1b2c" stroke-width="2.0" stroke-linejoin="round" stroke-linecap="round"/>
<polyline points="225.20,717.60 231.10,717.64 239.74,717.72 249.37,717.79 258.21,717.77 264.50,717.60 267.69,717.44 268.96,717.31 269.13,717.01 269.00,716.32 269.40,714.66 270.31,712.52 271.20,709.92 272.07,706.73 272.93,704.12 273.80,701.07 274.70,697.69 275.63,693.09 276.54,690.11 277.38,685.92 278.10,683.20 278.67,681.56 279.13,679.32 279.51,678.21 279.89,678.00 280.30,675.73 280.75,673.78 281.19,671.81 281.64,669.53 282.11,666.23 282.60,664.29 283.14,662.00 283.71,659.54 284.30,656.70 284.87,654.95 285.40,653.59 285.86,651.45 286.27,650.55 286.66,649.17 287.09,648.79 287.60,648.92 288.22,647.95 288.93,648.87 289.66,649.07 290.37,648.56 291.00,650.67 291.51,651.52 291.94,654.12 292.34,656.53 292.77,658.59 293.30,661.83 293.94,664.70 294.65,668.04 295.40,670.62 296.16,674.58 296.90,678.10 297.61,680.98 298.30,684.12 299.00,686.85 299.73,690.49 300.50,693.21 301.32,696.46 302.17,699.13 303.06,701.48 303.97,703.04 304.90,705.09 305.90,705.64 306.96,704.87 308.02,705.26 309.02,704.46 309.90,703.71 310.59,705.16 311.14,704.72 311.64,705.73 312.16,707.11 312.80,707.93 313.55,709.04 314.35,710.54 315.20,711.74 316.12,712.91 317.10,713.88 318.23,714.66 319.51,716.29 320.80,716.67 321.98,717.20 322.90,717.60 323.53,717.81 323.96,717.84 324.24,717.76 324.43,717.65 324.60,717.60" fill="none" stroke="#424ca2" stroke-width="2.0" stroke-linejoin="round" stroke-linecap="round"/>
<polyline points="325.80,717.60 331.26,717.76 339.28,718.07 348.20,718.31 356.39,718.23 362.20,717.60 365.11,716.39 366.23,715.08 366.31,712.79 366.15,710.71 366.50,707.62 367.38,704.54 368.26,701.34 369.14,698.37 370.02,693.58 370.90,690.51 371.81,686.27 372.75,682.71 373.66,678.02 374.50,674.30 375.20,671.57 375.68,670.21 375.99,669.96 376.24,669.28 376.54,669.58 377.00,667.50 377.67,665.48 378.46,662.34 379.32,659.19 380.19,657.09 381.00,654.70 381.76,652.32 382.53,651.01 383.27,650.33 383.96,650.09 384.60,649.81 385.15,649.62 385.64,649.61 386.08,649.53 386.53,650.69 387.00,651.60 387.49,653.62 387.98,655.64 388.48,657.45 389.01,660.02 389.60,663.37 390.26,665.29 390.97,669.51 391.71,672.98 392.46,676.41 393.20,678.85 393.92,682.10 394.64,685.12 395.36,688.10 396.08,691.35 396.80,693.64 397.51,695.74 398.20,699.02 398.90,700.94 399.63,703.24 400.40,705.19 401.23,705.63 402.11,707.66 403.01,708.29 403.91,708.67 404.80,709.23 405.68,709.50 406.56,709.28 407.44,709.74 408.29,709.17 409.10,710.00 409.85,710.60 410.56,710.83 411.24,711.55 411.95,712.70 412.70,713.31 413.49,713.17 414.30,715.02 415.14,715.81 416.03,716.55 417.00,717.20 418.14,717.54 419.43,717.67 420.74,717.66 421.91,717.61 422.80,717.60 423.35,717.63 423.67,717.63 423.83,717.62 423.91,717.61 424.00,717.60" fill="none" stroke="#bf1b2c" stroke-width="2.0" stroke-linejoin="round" stroke-linecap="round"/>
<polyline points="325.80,717.60 331.60,717.78 340.11,718.14 349.58,718.41 358.26,718.32 364.40,717.60 367.46,715.62 368.59,714.13 368.63,711.65 368.39,708.76 368.70,706.35 369.56,703.33 370.42,698.46 371.27,694.84 372.13,690.35 373.00,685.72 373.88,683.21 374.79,679.65 375.69,676.98 376.56,673.67 377.40,670.61 378.19,666.81 378.94,663.98 379.67,660.80 380.38,657.70 381.10,654.72 381.83,653.31 382.57,651.57 383.29,650.09 383.97,649.36 384.60,649.05 385.15,649.14 385.63,649.35 386.08,650.36 386.52,651.53 387.00,652.55 387.49,654.00 387.98,656.27 388.48,658.10 389.01,660.80 389.60,663.83 390.26,666.28 390.97,669.21 391.71,673.50 392.46,676.61 393.20,679.33 393.92,682.35 394.64,685.52 395.36,688.50 396.08,690.79 396.80,693.15 397.51,696.00 398.20,699.28 398.90,700.83 399.63,703.37 400.40,704.80 401.23,706.19 402.11,707.18 403.01,708.25 403.91,708.55 404.80,708.89 405.68,709.33 406.56,709.51 407.44,709.93 408.29,709.41 409.10,709.58 409.85,710.53 410.56,710.98 411.24,711.94 411.95,711.73 412.70,712.87 413.50,713.69 414.34,714.19 415.20,716.40 416.08,716.67 417.00,717.30 418.00,717.62 419.09,717.72 420.18,717.69 421.18,717.62 422.00,717.60 422.62,717.62 423.11,717.62 423.49,717.61 423.78,717.60 424.00,717.60" fill="none" stroke="#424ca2" stroke-width="2.0" stroke-linejoin="round" stroke-linecap="round"/>
<polyline points="425.20,717.60 430.37,717.72 437.95,717.96 446.38,718.15 454.12,718.09 459.60,717.60 462.32,716.72 463.32,715.21 463.35,713.58 463.16,712.24 463.50,709.56 464.41,707.29 465.39,703.51 466.38,699.48 467.34,695.60 468.20,692.90 468.96,688.91 469.64,686.19 470.28,682.42 470.89,679.75 471.50,675.74 472.10,672.52 472.68,669.40 473.24,667.07 473.81,664.00 474.40,661.10 475.02,658.53 475.65,657.27 476.29,655.86 476.92,653.85 477.50,651.85 478.05,651.01 478.57,650.53 479.06,650.33 479.54,650.00 480.00,649.92 480.42,650.68 480.81,651.13 481.19,650.46 481.58,651.77 482.00,651.47 482.47,652.22 482.96,652.70 483.48,653.15 483.99,652.56 484.50,653.75 484.98,655.17 485.45,656.80 485.93,657.08 486.44,659.02 487.00,661.75 487.65,663.28 488.37,666.56 489.11,669.64 489.84,673.25 490.50,676.56 491.09,678.40 491.63,681.94 492.15,684.68 492.67,687.45 493.20,689.57 493.74,692.40 494.28,693.92 494.82,696.10 495.39,697.83 496.00,700.36 496.66,701.66 497.35,702.94 498.07,704.21 498.79,706.13 499.50,706.94 500.19,707.73 500.86,707.68 501.54,708.01 502.25,707.70 503.00,708.57 503.83,707.78 504.72,708.35 505.62,708.72 506.50,708.71 507.30,708.28 508.01,709.06 508.64,710.67 509.25,711.34 509.86,712.61 510.50,713.48 511.20,713.80 511.95,715.29 512.69,715.96 513.39,716.42 514.00,717.00 514.53,717.35 515.00,717.51 515.42,717.57 515.75,717.57 516.00,717.60" fill="none" stroke="#bf1b2c" stroke-width="2.0" stroke-linejoin="round" stroke-linecap="round"/>
<polyline points="425.20,717.60 430.58,717.72 438.48,717.96 447.27,718.15 455.32,718.09 461.00,717.60 463.80,716.72 464.79,715.36 464.77,713.94 464.51,711.71 464.80,709.87 465.68,707.73 466.62,703.19 467.57,700.06 468.48,695.68 469.30,692.06 470.02,689.39 470.66,685.47 471.26,681.88 471.83,678.73 472.40,676.19 472.95,672.98 473.46,669.14 473.96,666.42 474.46,664.54 475.00,660.94 475.57,658.91 476.15,656.38 476.74,654.71 477.36,652.62 478.00,651.38 478.69,649.98 479.44,648.84 480.18,648.42 480.89,648.10 481.50,649.02 481.99,648.17 482.38,648.31 482.74,649.99 483.09,649.67 483.50,651.51 483.95,651.64 484.42,653.54 484.90,654.88 485.43,657.56 486.00,659.45 486.65,662.02 487.36,665.07 488.10,668.31 488.83,670.77 489.50,674.13 490.10,676.89 490.66,679.45 491.20,683.36 491.74,685.92 492.30,688.91 492.88,690.67 493.45,693.54 494.04,695.76 494.65,698.28 495.30,699.45 495.99,701.70 496.72,703.67 497.46,704.75 498.23,706.77 499.00,708.11 499.78,708.42 500.56,709.11 501.36,709.23 502.18,708.81 503.00,709.11 503.86,710.01 504.75,709.08 505.64,709.12 506.51,708.70 507.30,709.13 508.01,709.62 508.64,711.40 509.25,712.03 509.86,713.14 510.50,714.13 511.20,714.47 511.95,715.76 512.69,716.09 513.39,716.77 514.00,717.30 514.53,717.59 515.00,717.69 515.42,717.67 515.75,717.62 516.00,717.60" fill="none" stroke="#424ca2" stroke-width="2.0" stroke-linejoin="round" stroke-linecap="round"/>
<rect x="25" y="643.5" width="491.5" height="74.5" fill="none" stroke="#111" stroke-width="1.2"/>
<line x1="123.90" y1="643.50" x2="123.90" y2="718.00" stroke="#000" stroke-width="1.2"/>
<line x1="224.50" y1="643.50" x2="224.50" y2="718.00" stroke="#000" stroke-width="1.2"/>
<line x1="325.20" y1="643.50" x2="325.20" y2="718.00" stroke="#000" stroke-width="1.2"/>
<line x1="424.60" y1="643.50" x2="424.60" y2="718.00" stroke="#000" stroke-width="1.2"/>
<text x="69.40" y="639.58" font-size="10" text-anchor="middle" fill="#000" font-weight="bold">No IL-21</text>
<text x="173.00" y="639.58" font-size="10" text-anchor="middle" fill="#000" font-weight="bold">IL-21 1ng/ml</text>
<text x="276.60" y="639.58" font-size="10" text-anchor="middle" fill="#000" font-weight="bold">IL-21 10ng/ml</text>
<text x="373.70" y="639.58" font-size="10" text-anchor="middle" fill="#000" font-weight="bold">IL-21 20ng/ml</text>
<text x="471.50" y="639.58" font-size="10" text-anchor="middle" fill="#000" font-weight="bold">IL-21 50ng/ml</text>
<line x1="21.80" y1="717.60" x2="25.00" y2="717.60" stroke="#000" stroke-width="1.1"/>
<text x="21.30" y="720.46" font-size="8" text-anchor="end" fill="#000" font-weight="bold">0</text>
<line x1="21.80" y1="703.40" x2="25.00" y2="703.40" stroke="#000" stroke-width="1.1"/>
<text x="21.30" y="706.26" font-size="8" text-anchor="end" fill="#000" font-weight="bold">20</text>
<line x1="21.80" y1="689.20" x2="25.00" y2="689.20" stroke="#000" stroke-width="1.1"/>
<text x="21.30" y="692.06" font-size="8" text-anchor="end" fill="#000" font-weight="bold">40</text>
<line x1="21.80" y1="675.00" x2="25.00" y2="675.00" stroke="#000" stroke-width="1.1"/>
<text x="21.30" y="677.86" font-size="8" text-anchor="end" fill="#000" font-weight="bold">60</text>
<line x1="21.80" y1="660.80" x2="25.00" y2="660.80" stroke="#000" stroke-width="1.1"/>
<text x="21.30" y="663.66" font-size="8" text-anchor="end" fill="#000" font-weight="bold">80</text>
<line x1="21.80" y1="646.60" x2="25.00" y2="646.60" stroke="#000" stroke-width="1.1"/>
<text x="21.30" y="649.46" font-size="8" text-anchor="end" fill="#000" font-weight="bold">100</text>
<text x="4.10" y="680.90" dy="3.76" font-size="10.5" text-anchor="middle" fill="#000" font-weight="bold" transform="rotate(-90 4.10 680.90)">% Max</text>
<line x1="36.50" y1="718.00" x2="36.50" y2="721.00" stroke="#000" stroke-width="1"/>
<text x="36.50" y="730.36" font-size="8" text-anchor="middle" fill="#000" font-weight="bold">0</text>
<line x1="45.60" y1="718.00" x2="45.60" y2="721.00" stroke="#000" stroke-width="1"/>
<text x="40.42" y="730.36" font-size="8" font-weight="bold">10<tspan font-size="5.5" dy="-3.60">2</tspan></text>
<line x1="70.80" y1="718.00" x2="70.80" y2="721.00" stroke="#000" stroke-width="1"/>
<text x="65.62" y="730.36" font-size="8" font-weight="bold">10<tspan font-size="5.5" dy="-3.60">3</tspan></text>
<line x1="94.00" y1="718.00" x2="94.00" y2="721.00" stroke="#000" stroke-width="1"/>
<text x="88.82" y="730.36" font-size="8" font-weight="bold">10<tspan font-size="5.5" dy="-3.60">4</tspan></text>
<line x1="117.70" y1="718.00" x2="117.70" y2="721.00" stroke="#000" stroke-width="1"/>
<text x="112.52" y="730.36" font-size="8" font-weight="bold">10<tspan font-size="5.5" dy="-3.60">5</tspan></text>
<line x1="136.90" y1="718.00" x2="136.90" y2="721.00" stroke="#000" stroke-width="1"/>
<text x="136.90" y="730.36" font-size="8" text-anchor="middle" fill="#000" font-weight="bold">0</text>
<line x1="146.90" y1="718.00" x2="146.90" y2="721.00" stroke="#000" stroke-width="1"/>
<text x="141.72" y="730.36" font-size="8" font-weight="bold">10<tspan font-size="5.5" dy="-3.60">2</tspan></text>
<line x1="170.80" y1="718.00" x2="170.80" y2="721.00" stroke="#000" stroke-width="1"/>
<text x="165.62" y="730.36" font-size="8" font-weight="bold">10<tspan font-size="5.5" dy="-3.60">3</tspan></text>
<line x1="194.00" y1="718.00" x2="194.00" y2="721.00" stroke="#000" stroke-width="1"/>
<text x="188.82" y="730.36" font-size="8" font-weight="bold">10<tspan font-size="5.5" dy="-3.60">4</tspan></text>
<line x1="218.40" y1="718.00" x2="218.40" y2="721.00" stroke="#000" stroke-width="1"/>
<text x="213.22" y="730.36" font-size="8" font-weight="bold">10<tspan font-size="5.5" dy="-3.60">5</tspan></text>
<line x1="236.90" y1="718.00" x2="236.90" y2="721.00" stroke="#000" stroke-width="1"/>
<text x="236.90" y="730.36" font-size="8" text-anchor="middle" fill="#000" font-weight="bold">0</text>
<line x1="247.10" y1="718.00" x2="247.10" y2="721.00" stroke="#000" stroke-width="1"/>
<text x="241.92" y="730.36" font-size="8" font-weight="bold">10<tspan font-size="5.5" dy="-3.60">2</tspan></text>
<line x1="270.80" y1="718.00" x2="270.80" y2="721.00" stroke="#000" stroke-width="1"/>
<text x="265.62" y="730.36" font-size="8" font-weight="bold">10<tspan font-size="5.5" dy="-3.60">3</tspan></text>
<line x1="294.00" y1="718.00" x2="294.00" y2="721.00" stroke="#000" stroke-width="1"/>
<text x="288.82" y="730.36" font-size="8" font-weight="bold">10<tspan font-size="5.5" dy="-3.60">4</tspan></text>
<line x1="318.40" y1="718.00" x2="318.40" y2="721.00" stroke="#000" stroke-width="1"/>
<text x="313.22" y="730.36" font-size="8" font-weight="bold">10<tspan font-size="5.5" dy="-3.60">5</tspan></text>
<line x1="336.90" y1="718.00" x2="336.90" y2="721.00" stroke="#000" stroke-width="1"/>
<text x="336.90" y="730.36" font-size="8" text-anchor="middle" fill="#000" font-weight="bold">0</text>
<line x1="347.10" y1="718.00" x2="347.10" y2="721.00" stroke="#000" stroke-width="1"/>
<text x="341.92" y="730.36" font-size="8" font-weight="bold">10<tspan font-size="5.5" dy="-3.60">2</tspan></text>
<line x1="370.80" y1="718.00" x2="370.80" y2="721.00" stroke="#000" stroke-width="1"/>
<text x="365.62" y="730.36" font-size="8" font-weight="bold">10<tspan font-size="5.5" dy="-3.60">3</tspan></text>
<line x1="394.00" y1="718.00" x2="394.00" y2="721.00" stroke="#000" stroke-width="1"/>
<text x="388.82" y="730.36" font-size="8" font-weight="bold">10<tspan font-size="5.5" dy="-3.60">4</tspan></text>
<line x1="418.00" y1="718.00" x2="418.00" y2="721.00" stroke="#000" stroke-width="1"/>
<text x="412.82" y="730.36" font-size="8" font-weight="bold">10<tspan font-size="5.5" dy="-3.60">5</tspan></text>
<line x1="433.50" y1="718.00" x2="433.50" y2="721.00" stroke="#000" stroke-width="1"/>
<text x="433.50" y="730.36" font-size="8" text-anchor="middle" fill="#000" font-weight="bold">0</text>
<line x1="443.00" y1="718.00" x2="443.00" y2="721.00" stroke="#000" stroke-width="1"/>
<text x="437.82" y="730.36" font-size="8" font-weight="bold">10<tspan font-size="5.5" dy="-3.60">2</tspan></text>
<line x1="469.60" y1="718.00" x2="469.60" y2="721.00" stroke="#000" stroke-width="1"/>
<text x="464.42" y="730.36" font-size="8" font-weight="bold">10<tspan font-size="5.5" dy="-3.60">3</tspan></text>
<line x1="492.00" y1="718.00" x2="492.00" y2="721.00" stroke="#000" stroke-width="1"/>
<text x="486.82" y="730.36" font-size="8" font-weight="bold">10<tspan font-size="5.5" dy="-3.60">4</tspan></text>
<line x1="514.20" y1="718.00" x2="514.20" y2="721.00" stroke="#000" stroke-width="1"/>
<text x="509.02" y="730.36" font-size="8" font-weight="bold">10<tspan font-size="5.5" dy="-3.60">5</tspan></text>
<text x="23.60" y="745.01" font-size="9.8" text-anchor="start" fill="#000" font-weight="bold">CFSE</text>
<line x1="52.50" y1="741.30" x2="509.00" y2="741.30" stroke="#000" stroke-width="1.5"/>
<polygon points="508,737.8 516.7,741.3 508,744.8" fill="#000"/>
<rect x="30.80" y="650.20" width="9.40" height="5.20" fill="#46509e" stroke="#15153a" stroke-width="1.3"/>
<rect x="30.80" y="664.60" width="9.40" height="5.20" fill="#c01d26" stroke="#3a0808" stroke-width="1.3"/>
<text x="43.80" y="656.06" font-size="8" text-anchor="start" fill="#000" font-weight="bold">No IL-2</text>
<text x="43.80" y="669.56" font-size="8" text-anchor="start" fill="#000" font-weight="bold">+ IL-2</text>
</svg>
</body></html>
